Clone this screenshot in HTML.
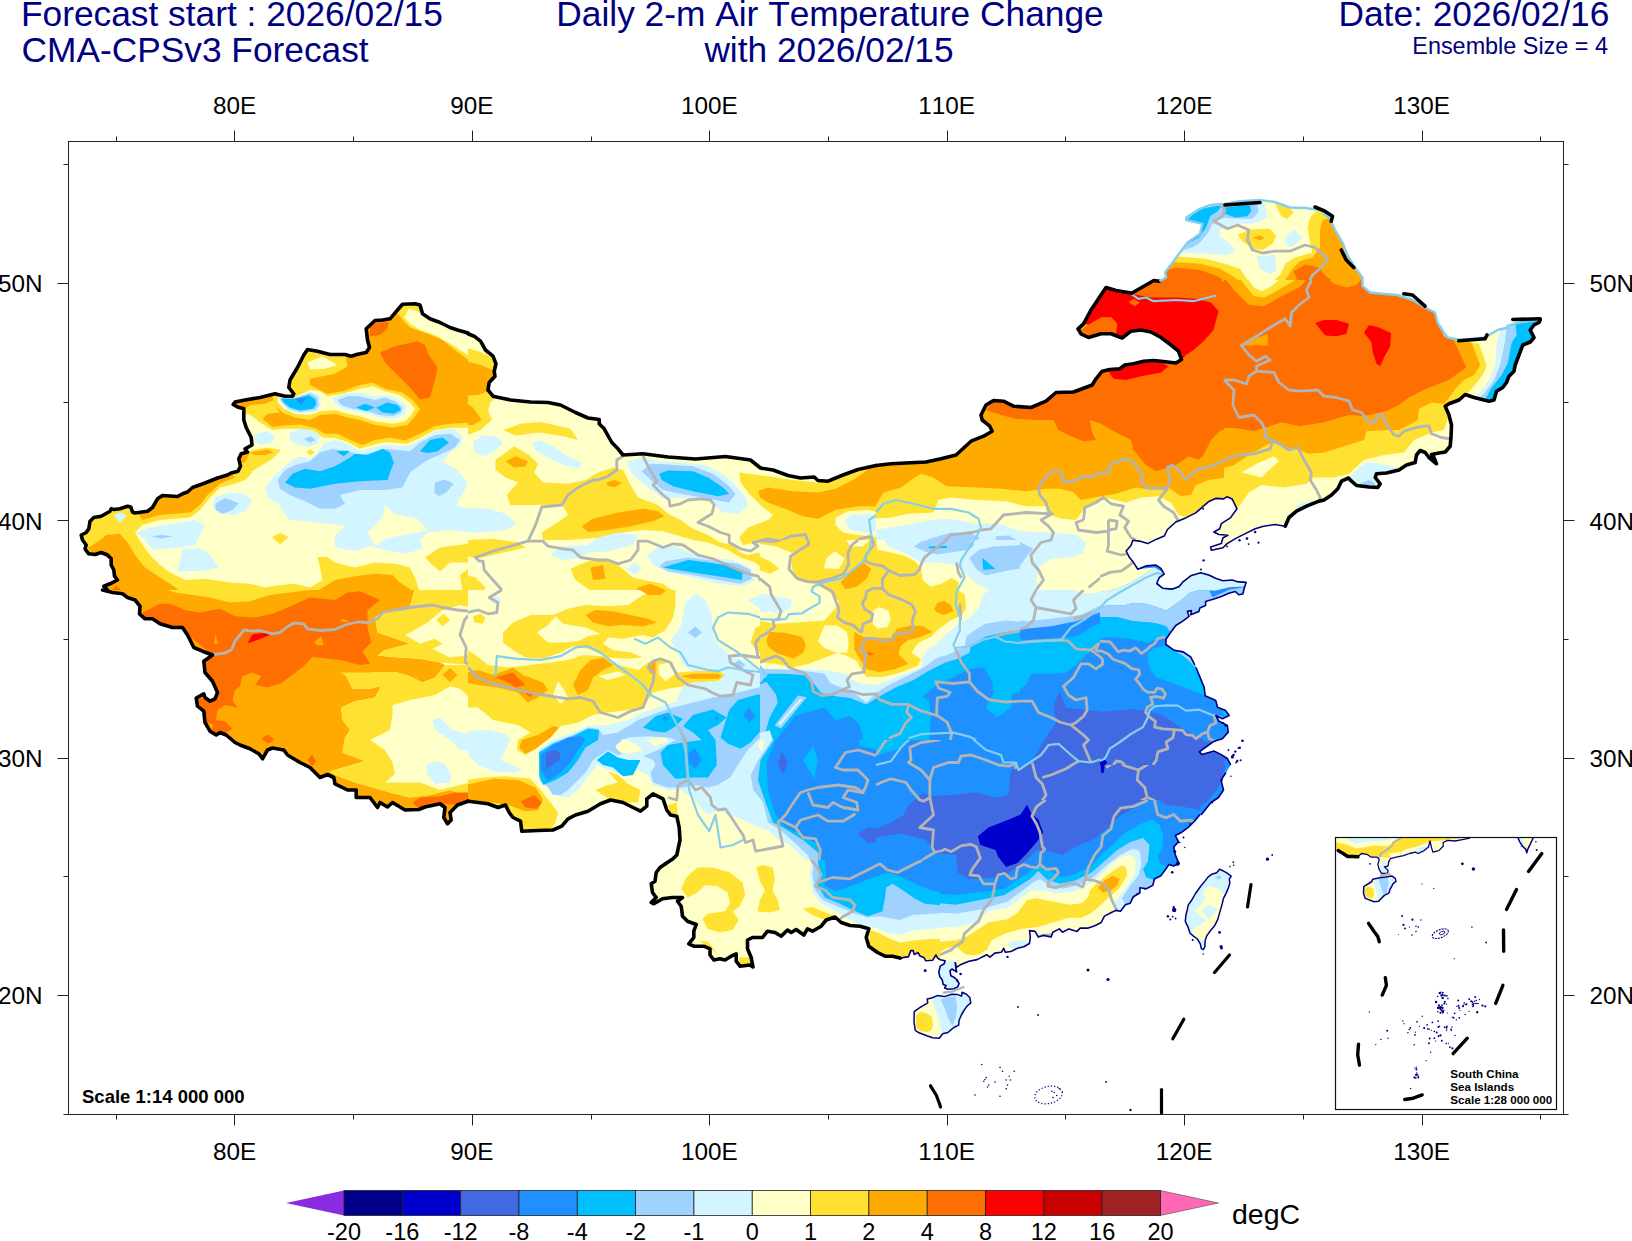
<!DOCTYPE html>
<html><head><meta charset="utf-8"><title>Daily 2-m Air Temperature Change</title>
<style>html,body{margin:0;padding:0;background:#fff;}body{width:1632px;height:1241px;overflow:hidden;position:relative;font-family:"Liberation Sans",sans-serif;}</style>
</head><body>
<svg width="1632" height="1241" viewBox="0 0 1632 1241" style="position:absolute;left:0;top:0">
<defs><clipPath id="t0"><rect x="1100" y="170" width="408" height="112"/></clipPath><clipPath id="t1"><rect x="60" y="280" width="408" height="310"/></clipPath><clipPath id="t2"><rect x="468" y="280" width="408" height="310"/></clipPath><clipPath id="t3"><rect x="876" y="280" width="408" height="310"/></clipPath><clipPath id="t4"><rect x="1224" y="280" width="408" height="310"/></clipPath><clipPath id="t5"><rect x="60" y="590" width="408" height="310"/></clipPath><clipPath id="t6"><rect x="468" y="590" width="408" height="310"/></clipPath><clipPath id="t7"><rect x="876" y="590" width="408" height="310"/></clipPath><clipPath id="t8"><rect x="1100" y="560" width="270" height="205"/></clipPath><clipPath id="t9"><rect x="600" y="860" width="408" height="310"/></clipPath><clipPath id="t10"><rect x="1008" y="860" width="408" height="310"/></clipPath><clipPath id="t11"><rect x="940" y="800" width="260" height="200"/></clipPath><clipPath id="t12"><rect x="760" y="540" width="260" height="200"/></clipPath><clipPath id="china"><polygon points="107.5,590 103.8,586.2 110,583.8 117.5,580 114.5,576.2 113.8,570 111.2,565 111.2,558.8 107.5,555 101.2,552.5 95,554.5 88.8,553.8 85,548.8 86.2,545 82.5,540 81.2,535 86.2,532.5 88.8,528.8 90,521.2 93.8,517.5 101.2,516.2 110,511.2 111.2,508.8 113.8,509.5 120,508.8 127.5,506.2 130.8,507 132.5,512 135,513 147.5,511.2 152.5,507.5 157.5,498.8 162.5,495.5 177.5,496.5 182.5,493.8 187.5,492 192.5,487.5 205,483 217.5,478 227.5,475 231.2,473 238,471.2 240.5,466.2 238.8,458.8 241.2,453.8 247.5,452 245,448.8 252,445 251.2,437.5 246.2,427.5 243.8,420 243.8,408.8 237.5,407 233.2,404.5 235,402 245,400 260,397.5 275,393.8 285,396.2 292.5,396.2 293.8,393.8 288.8,387.5 290,380 297.5,367.5 303.8,355 307.5,349.5 317.5,351.2 330,354.5 345,354.5 351.2,356.2 357.5,354.2 366.2,352.5 369.5,347.5 367.5,340 366.2,328.8 375,320.5 382.5,320 390,318.8 397.5,310 402.5,304.2 415,303.8 420,305 422.5,313.8 430,318.8 440,322.5 450,327.5 457.5,330 468,333 468,333.8 474.2,336.2 480.5,341.2 485.5,350 493,356.2 496,363.8 494.2,371.2 495,376.2 489.2,382.5 488,390 493,396.2 510.5,400 530.5,402 548,402.5 560.5,405 575.5,412.5 588,418 599.2,419.5 599.2,423.8 604.2,428.8 611.8,442.5 618,448.8 623,455 643,453.8 668,457 695.5,459 725.5,456.5 750.5,460 760.5,468 773,470 788,475.5 800.5,478 814.2,477 818,480.5 828,481.2 843,475 858,469.5 876,465.5 876,465.5 891,463.8 906,463 926,462 941,458.8 956,455 971,441.2 983.5,436.2 992.2,431.2 989.8,426.2 982.2,420 981,415 986,405 993.5,400.5 1003.5,401.2 1013.5,406.2 1031,407.5 1046,401.2 1056,392.5 1073.5,392 1092.2,385 1096,378.8 1102.2,371.2 1109.8,369.5 1119.8,368.8 1124.8,365 1133.5,363.8 1143.5,361.2 1153.5,360.5 1161,361.2 1176,363 1181.5,359.5 1178.5,351.2 1171,345 1161,337.5 1151,332 1141,330 1131,331.2 1122.2,338 1111,333.8 1101,333.8 1088.5,337.5 1081,333.8 1078,328.8 1083.5,323.8 1091,310 1101,295 1106,287.5 1116,290.5 1131,293 1132,293 1153.8,280.5 1159.5,281.2 1159.5,281.2 1166.2,277.5 1165,272.5 1172.5,262.5 1180,252.5 1187.5,242.5 1200,233.8 1202.5,223.8 1186.2,220 1186.2,217.5 1200,208.8 1210,205 1225,203.8 1240,201.2 1260,200 1275,202 1290,207.5 1305,208 1320,210 1330,218.8 1335,230 1342.5,242.5 1347.5,255 1355,267.5 1362.5,277.5 1362.5,286.2 1370,292.5 1382.5,293.8 1397.5,295 1412.5,300 1425,307.5 1435,312.5 1437.5,322.5 1443.8,332.5 1447.5,337.5 1460,340 1485,337.5 1497.5,330 1508,327.5 1506.5,326.2 1519,322.5 1536.5,320 1540.2,320 1540.2,320 1539,322.5 1534,325 1530.2,330 1534,337.5 1530.2,342 1522.8,345 1519,355 1515.2,365 1514,371.2 1509,376.2 1506.5,382.5 1502.8,387.5 1496.5,391.2 1494,400 1489,401.2 1474,397.5 1465.2,394.5 1459,400 1449,403.8 1445.2,406.2 1449,415 1451.5,425 1451,437.5 1450.2,446.2 1445.2,452 1439,453 1431.5,454.5 1434,457.5 1436.5,463.8 1429,457.5 1425.2,452.5 1420.2,450.5 1416.5,455 1415.2,462.5 1406.5,465 1399,470 1386.5,473 1376.5,473.8 1375.2,477.5 1380.2,483.8 1377.8,487.5 1369,487 1356.5,485.5 1351.5,481.2 1348.5,478 1341.5,481.2 1337.8,488.8 1331.5,495 1324,500 1319,501.2 1306.5,506.2 1296.5,511.2 1289,517.5 1285.2,526.2 1285,526.2 1275.1,524.5 1263.5,526.2 1255.2,528.7 1245.3,533.6 1235.4,538.6 1227.1,543.6 1223,547.7 1211.4,550.2 1210.6,546.9 1221.3,543.6 1223,537.8 1227.9,535.3 1218.8,534.5 1213.9,532 1219.7,528.7 1221.3,523.7 1230.4,517.9 1237,508.8 1232.1,498.9 1227.1,496.7 1223.8,498.9 1215.5,498.4 1208.9,501.4 1202.3,507.2 1195.7,512.9 1185.7,517.9 1175.8,522 1167.5,529.5 1164.2,536.1 1156,539.4 1147.7,543.6 1139.4,541.1 1132.8,540.2 1131.1,545.2 1126.2,551 1129.5,557.6 1133.6,562.6 1137.8,569.2 1146,565.9 1156,565.1 1160.9,568.4 1164.2,574.2 1159.3,577.5 1156.8,583.3 1162.6,588.2 1172.5,589.1 1179.1,586.6 1183.3,581.6 1190.7,575.8 1200.6,572.8 1208.9,575 1215.5,578.3 1223,580.8 1232.1,580 1237,581.6 1246.1,582.4 1244.5,587.4 1242.8,594 1238.7,594.8 1235.4,591.5 1228.8,593.2 1221.3,596.5 1213.9,599 1205.6,601.5 1205.6,605.6 1199.8,608.1 1199,611.4 1190.7,614.7 1191.5,610.6 1187.4,611.4 1189.1,616.4 1182.4,621.3 1175.8,625.5 1170.9,632.1 1165.9,639.5 1165.9,644.5 1174.2,650.3 1183.3,651.9 1190.7,656.9 1194.8,665 1196,667.5 1204.2,687.4 1205.1,695.7 1215.8,700.6 1217.5,707.3 1225.7,710.6 1229.1,715.5 1222.4,718.8 1215.8,715.5 1219.1,721.3 1227.4,725.5 1228.2,732.1 1222.4,738.7 1214.2,741.2 1205.9,747 1199.3,751.9 1201.8,754.4 1214.2,751.1 1220.8,754.4 1227.4,758.5 1230.7,765 1226,772.5 1221,780 1223.5,790 1218.5,797.5 1211,802.5 1201,815 1200,814.5 1194.7,821 1188.2,827.4 1181.8,832.2 1175.3,835.5 1178.6,841.9 1173.7,846.7 1175.3,854.8 1178.6,862.9 1173.7,866.1 1168.9,864.5 1165.7,869.3 1160.8,875.8 1154.4,879 1152.8,885.4 1146.3,888.7 1139.9,887.8 1139.9,892.7 1133.4,896.7 1130.2,903.2 1125.4,904.8 1120.5,911.2 1115.7,910.4 1110.9,912.8 1104.4,916.1 1101.2,922.5 1094.7,925.7 1088.3,928.1 1080.2,928.1 1077,931.4 1068.9,928.9 1062.5,932.2 1059.3,928.9 1052.8,932.2 1051.2,937 1043.2,935.4 1038.3,937 1035.1,931.4 1029.5,930.6 1030.3,937 1029.5,943.5 1023.8,946.7 1017.4,948.3 1010.9,951.5 1005.3,952.3 1003.7,948.3 1001.3,952.3 994.8,953.1 990,957.2 986.7,954.7 977.1,959.6 969,961.2 961,964.4 956.1,967.6 955.3,962 955.3,962.2 955.8,968 956.7,971.9 951.9,969 950,970.9 950.9,975.8 953.8,977.2 956.7,979.7 959.1,983.5 957.7,986.9 953.8,988.8 948,989.3 944.6,987.9 946.1,985.5 943.2,984.5 942.2,979.7 939.8,976.8 938.8,971.9 940.3,966.1 944.2,963.7 945.1,960.8 940.3,959.8 937.9,958.4 935.9,955 932.6,960.3 925.8,960.8 923.8,957.4 920,956 918,952.6 914.2,954.5 913.2,950.6 910.8,950.6 908.4,956.9 903.5,957.4 899.7,958.9 900,958 892.5,956.2 885,956.2 877.5,952.5 868.8,946.2 866.2,937.5 868.8,928.8 860,926.2 850,925.5 841.2,922.5 835,917 826.2,920 821.2,926.2 812.5,931.2 807.5,928.8 803.8,935 796.2,929.5 791.2,932.5 787.5,930 781.2,936.2 775,932.5 767.5,931.2 762.5,937.5 752.5,937.5 747.5,940 747.5,948.8 751.2,957.5 753,967 750,965 740,966.2 736.2,961.2 736.2,953.8 731.2,956.2 725,960 720,958.8 713.8,960 710,955 710,948.8 703.8,946.2 693.8,946.2 688.8,943.8 693.8,937.5 693.8,931.2 696.2,924.5 687.5,921.2 682.5,916.2 681.2,906.2 677.5,901.2 682.5,897.5 672.5,897.5 662.5,898.8 653.8,903.8 651.2,902.5 656.2,897.5 652.5,892.5 651.2,883.8 655,881.2 656.2,872.5 660,867.5 665.5,863.8 665.5,863.8 673,858.8 676.8,855 680,840 679.2,827.5 676.8,816.2 670.5,815 666.8,810 663,798.8 653,793.8 646.8,798.8 646.8,806.2 640.5,811.2 633,807.5 623,802.5 610.5,800 600.5,803.8 588,811.2 575.5,815 568,818.8 561.8,826.2 553,830 538,830.5 521.8,831.2 520.5,821.2 513,817.5 509.2,812.5 505.5,805 498,807.5 488,803.8 478,802.5 468,801.2 468,801.2 457.5,805 450,812.5 451.2,820 447.5,823.8 443.8,817.5 445,807.5 440,803.8 425,807 418.8,809.5 405,810 392.5,802.5 387.5,807 380,802.5 377.5,807.5 370,797.5 356.2,797.5 356.2,790 347.5,790 335,783.8 333.8,777.5 327.5,774.5 320,777.5 310,767.5 300,762.5 287.5,755 283.8,750 272.5,748 267.5,750 262.5,758.8 258.8,753.8 250,748.8 240,745 235,742.5 226.2,735 220,732.5 216.2,735 210,731.2 205,722.5 203.8,711.2 197.5,706.2 196.2,698 203.8,693.8 205,697.5 210,701.2 215,698.8 217.5,692.5 212.5,681.2 205,672.5 203.8,661.2 212.5,655 202.5,651.2 193.8,647.5 187.5,635 182.5,627.5 172.5,627.5 160,623.8 152.5,618.8 145,618.8 139.5,613.8 140,606.2 135,600 127.5,597.5 122.5,593.8 112.5,592.5 102.5,590"/></clipPath></defs>
<g clip-path="url(#china)"><rect x="60" y="180" width="1500" height="900" fill="#FFFFC8"/>
<g clip-path="url(#t0)"><rect x="1100" y="170" width="408" height="112" fill="#FFFFC8"/><polygon fill="#FFE132" points="1175,256.2 1205,258.8 1225,263.8 1240,268.8 1247.5,280 1260,290 1270,283.8 1280,275 1286.2,262.5 1295,257.5 1312.5,252.5 1310,242.5 1307.5,227.5 1310,217.5 1317.5,210 1335,217.5 1375,290 1375,482.5 1097.5,482.5 1097.5,270 1162.5,277.5"/><polygon fill="#FFAA00" points="1171.2,262 1200,263.8 1220,268.8 1235,277.5 1247.5,290 1260,296.2 1272.5,290 1285,280 1292.5,268.8 1300,261.2 1312.5,257.5 1320,247.5 1320,230 1322.5,220 1331.2,217.5 1375,290 1375,482.5 1097.5,482.5 1097.5,270 1163.8,277.5"/><polygon fill="#FF6E00" points="1167.5,270 1175,267.5 1200,270 1217.5,276.2 1230,285 1242.5,296.2 1255,306.2 1270,301.2 1285,287.5 1297.5,281.2 1293.8,271.2 1305,264.5 1317.5,267 1326.2,276.2 1340,286.2 1360,287.5 1375,295 1375,482.5 1097.5,482.5 1097.5,282.5 1162.5,280"/><polygon fill="#D2F5FF" points="1180,252.5 1187.5,242.5 1200,233.8 1202.5,223.8 1186.2,220 1200,208.8 1225,203.8 1260,200 1265,205 1267.5,217.5 1260,221.2 1250,223.8 1235,223.8 1220,230 1220,236.2 1230,243.8 1236.2,250 1227.5,255 1205,253.8"/><polygon fill="#A0D2FF" points="1182.5,250 1187.5,242.5 1200,233.8 1202.5,223.8 1186.2,220 1200,208.8 1225,203.8 1256.2,202 1258.8,211.2 1252.5,218.8 1240,218.8 1222.5,217.5 1212.5,223.8 1207.5,233.8 1200,242.5 1192.5,247.5"/><polygon fill="#00BFFF" points="1185,245 1200,233.8 1202.5,223.8 1186.2,220 1200,208.8 1222.5,205 1217.5,211.2 1210,216.2 1206.2,227.5 1198.8,237.5"/><polygon fill="#00BFFF" points="1225,207.5 1250,205 1251.2,211.2 1247.5,216.2 1235,217.5 1225,213.8"/><polygon fill="#D2F5FF" points="1256.2,256.2 1275,255 1276.2,270 1270,273.8 1260,268.8"/><polygon fill="#D2F5FF" points="1285,236.2 1293.8,230 1302.5,237.5 1295,245 1290,247.5 1285,243.8"/><polygon fill="#FFE132" points="1237.5,235 1250,229.5 1270,228.8 1276.2,236.2 1272.5,243.8 1262.5,250 1252.5,248.8 1242.5,241.2"/><polygon fill="#FFAA00" points="1252.5,237.5 1260,235.5 1265,238 1260,240.5"/><polygon fill="#FFE132" points="1275,203.8 1290,208 1293.8,212.5 1287.5,218.8 1281.2,216.2"/><polygon fill="#FF0000" points="1097.5,290 1125,293.8 1132.5,295 1150,290 1153.8,297.5 1175,296.2 1200,297.5 1212.5,303.8 1218.8,312.5 1215,325 1097.5,325"/><polyline fill="none" stroke="#B4B4B4" stroke-width="2.8" stroke-linejoin="round" points="1218.8,203.8 1225,210 1222.5,216.2 1213.8,221.2 1227.5,228.8 1237.5,225 1248.8,230 1247.5,240 1252.5,250 1262.5,253 1275,251.2 1290,251.2 1305,245 1315,247.5 1327.5,258.8 1322.5,266.2 1312.5,275 1307.5,285"/></g>
<g clip-path="url(#t1)"><rect x="60" y="280" width="408" height="310" fill="#FFFFC8"/><polygon fill="#FFE132" points="230,397.5 310,342.5 410,295 470,295 470,427.5 450,428 435,430 420,438 407.5,443.8 385,442 372.5,445 360,448.8 347.5,442 335,438 322.5,437.5 315,431.5 300,428.8 285,428.8 272.5,430 260,422.5 252.5,416.2 243.8,412.5"/><polygon fill="#FFFFC8" points="408.8,308.8 421.2,312.5 470,332.5 470,356.2 450,343.8 435,335 420,330 410,323.8 403.8,317.5"/><polygon fill="#FFFFC8" points="307.5,362.5 322.5,356.2 337.5,365 325,368.8 310,369.5"/><polygon fill="#FFAA00" points="395,310 403.8,321.2 410,327.5 427.5,333.8 442.5,340 455,350 470,361.2 470,422.5 450,423.8 435,426.2 420,433.8 405,440.5 390,437.5 375,440 362.5,445 350,440 337.5,433.8 325,433.8 315,428 300,424.5 285,425.5 272.5,427 262.5,418.8 267.5,413.8 280,412.5 275,405 272.5,396.2 293.8,397.5 310,385 310,378.8 335,373.8 347.5,366.2 345,352.5 370,350 363.8,327.5 375,317.5"/><polygon fill="#FFAA00" points="235,400 275,393.8 277.5,398.8 265,403.8 250,405 245,408.8 235,405"/><polygon fill="#FFE132" points="272.5,396.2 293.8,397.5 310,385 327.5,393.8 342.5,391.2 360,385 372.5,382.5 385,388.8 402.5,392.5 412.5,400 420,408.8 416.2,415 407.5,425 392.5,427.5 375,425 360,420 347.5,417.5 335,413.8 320,415 310,420 295,417.5 282.5,412.5 275,405"/><polygon fill="#FFFFC8" points="277.5,397.5 293.8,397.5 310,390 320,391.2 327.5,396.2 342.5,393.8 360,388.8 372.5,386.2 385,391.2 400,395 410,402.5 415,408.8 411.2,415 405,421.2 392.5,423.8 375,421.2 360,416.2 347.5,413.8 335,410 320,411.2 310,415 295,413.8 283.8,408.8 278,402.5"/><polygon fill="#D2F5FF" points="278.8,397.5 295,397.5 310,391.2 318.8,395 321.2,405 317.5,411.2 300,413.8 287.5,410 281.2,403.8"/><polygon fill="#D2F5FF" points="332.5,397.5 345,393.8 360,392.5 375,396.2 385,395 397.5,398.8 406.2,406.2 405,413.8 395,418.8 380,417.5 367.5,413.8 355,411.2 342.5,408.8 335,403.8"/><polygon fill="#A0D2FF" points="280,398 295,398 310,393 317.5,397.5 318.8,405 315,410 300,412 288.8,408.8 282.5,403"/><polygon fill="#A0D2FF" points="337.5,400 347.5,396.2 360,396.2 375,400 385,397.5 395,401.2 402.5,407.5 401.2,412.5 392.5,416.2 380,415 367.5,411.2 352.5,408.8 341.2,405"/><polygon fill="#00BFFF" points="281.2,398.8 295,398.8 308.8,395 315.5,399.5 316.2,405 312.5,408.8 300,410.5 290,407.5 283.8,402.5"/><polygon fill="#00BFFF" points="356.2,407.5 365,403.8 375,407.5 366.2,411.2"/><polygon fill="#00BFFF" points="376.2,407.5 387.5,402.5 397.5,405 401.2,410 393.8,413.8 382.5,412.5"/><polygon fill="#1E90FF" points="295,398.8 307.5,397.5 301.2,405"/><polygon fill="#FF6E00" points="370,327.5 376.2,322.5 388.8,322 387.5,328.8 380,335 370,336.2"/><polygon fill="#FF6E00" points="380,352.5 395,346.2 417.5,341.2 425,345 428.8,355 437.5,367.5 435,380 430,397.5 420,399.5 410,387.5 395,372.5 385,362.5"/><polygon fill="#D2F5FF" points="255,433.8 267.5,431.2 275,436.2 272.5,442.5 260,445 253.8,440"/><polygon fill="#D2F5FF" points="290,432.5 300,428.8 312.5,430 320,436.2 317.5,443.8 307.5,447 295,443.8 289.5,438.8"/><polygon fill="#A0D2FF" points="303.8,438.8 311.2,436.2 315.5,440 310,443"/><polygon fill="#D2F5FF" points="325,442.5 335,440 347.5,443.8 360,451.2 372.5,447.5 385,445 407.5,446.2 420,440 435,431.2 450,428.8 470,431.2 470,532.5 450,530 427.5,532.5 420,540 422.5,548.8 405,553.8 385,550 370,546.2 355,551.2 335,547.5 335,535 345,526.2 327.5,523.8 307.5,521.2 290,520 281.2,510 280,505 267.5,497.5 265,487.5 272.5,477.5 280,470 292.5,460 300,456.2 310,458.8 315,455 320,448.8"/><polygon fill="#FFFFC8" points="455,430 462.5,436.5 461.2,445 449,453.2 442.8,461.8 457.2,470 467.8,482.8 463.5,493 456.2,505.8 472.5,506.2 472.5,427.5"/><polygon fill="#FFFFC8" points="385,505 393.8,513.8 417.5,518.8 427.5,530 410,533.8 385,538.8 376.2,546.2 367.5,532.5 382.5,517.5"/><polygon fill="#FFFFC8" points="457.5,500 470,495 470,508.8 460,506.2"/><polygon fill="#A0D2FF" points="277.5,480 285,470 295,465 310,461.2 320,452.5 332.5,448.8 347.5,451.2 360,455 372.5,452.5 385,448.8 410,451.2 420,442.5 435,435 450,433.8 460,440 455,447.5 445,452.5 427.5,460 420,465 410,472.5 402.5,487.5 385,490 360,490 340,495 345,503.8 335,508.8 320,508.8 305,501.2 290,495 280,488.8"/><polygon fill="#A0D2FF" points="435,482.5 445,479.5 453.8,483.8 446.2,492.5 438.8,496.2 434.2,492.5"/><polygon fill="#00BFFF" points="285,482.5 292.5,473.8 305,468.8 320,471.2 335,466.2 350,457.5 355,453.8 367.5,455 382.5,448.8 390,452.5 393.8,462.5 390,472.5 387.5,480 360,481.2 335,483.8 310,488.8 295,487.5"/><polygon fill="#00BFFF" points="336.2,451.2 350,450.8 343.8,456.2"/><polygon fill="#00BFFF" points="420,451.2 430,440 442.5,437.5 448.8,442.5 437.5,451.2 427.5,453"/><polygon fill="#FFE132" points="241.2,455 252.5,450 267.5,447.5 281.2,450 272.5,458.8 260,466.2 250,472.5 235,477.5 238.8,465"/><polygon fill="#FFAA00" points="250,452.5 267.5,449.5 273.8,452.5 265,455 255,455"/><polygon fill="#FFAA00" points="241.2,455 250,452.5 245,462.5 240.5,462.5"/><polygon fill="#FFE132" points="306.2,452 310,449.5 314.5,452 310.8,455.5"/><polygon fill="#FFE132" points="242.5,467.5 252.5,472.5 245,480 235,483.8 220,487.5 210,497.5 200,510 190,517.5 160,520 142.5,525 135,532.5 142.5,545 150,555 160,565 170,572.5 185,580 185,592.5 75,592.5 75,517.5 110,505 160,492.5 190,485 230,470"/><polygon fill="#FFAA00" points="235,477.5 220,483.8 207.5,495 200,505 190,512.5 160,515 142.5,520 137.5,512.5 155,497.5 177.5,493.8 192.5,486.2 230,472.5"/><polygon fill="#FFAA00" points="106.2,535 120,533.8 127.5,542.5 135,555 145,567.5 160,577.5 170,583.8 182.5,592.5 102.5,592.5 113.8,580 113.8,570 111.2,557.5 107.5,553.8 101.2,552.5 92.5,553.8 87.5,547.5 92.5,545 100,540"/><polygon fill="#FF6E00" points="116.2,585.5 123.8,592.5 110,592.5"/><polygon fill="#FFE132" points="185,580 205,578.8 230,582.5 250,583.8 265,587.5 280,585 295,583.8 310,587.5 322.5,580 320,567.5 317.5,557 327.5,557 335,562.5 355,567.5 375,562.5 395,563.8 410,567.5 415,577.5 420,592.5 180,592.5"/><polygon fill="#FFAA00" points="335,580 355,576.2 375,573.8 392.5,575 400,582.5 415,592.5 315,592.5"/><polygon fill="#FFE132" points="425,557.5 440,547.5 468,543.8 470,562.5 450,562.5 440,571.2 432.5,565"/><polygon fill="#FFE132" points="272,537 280,533 288.8,537 280,544.5"/><polygon fill="#FFE132" points="460,575 470,567.5 470,592.5 462.5,592.5"/><polygon fill="#D2F5FF" points="215,497.5 230,492.5 245,493.8 252.5,501.2 245,511.2 235,515 220,513.8 212.5,506.2"/><polygon fill="#A0D2FF" points="215.5,503.8 225,498 238.8,503.2 232.5,510 222.5,513.8 215.5,510"/><polygon fill="#D2F5FF" points="136.2,532.5 150,527.5 172.5,523.8 195,520 205,525 195,545 180,547.5 152.5,549.5 145,540"/><polygon fill="#A0D2FF" points="151.2,536.2 162.5,535 172.5,536.5 161.2,538.5"/><polygon fill="#D2F5FF" points="177.5,571.2 182.5,548.8 200,548 210,555 218.8,567.5 200,571.2"/><polygon fill="#D2F5FF" points="113.8,515 120,512.5 127,515.5 120,523"/></g>
<g clip-path="url(#t2)"><rect x="468" y="280" width="408" height="310" fill="#FFFFC8"/><polygon fill="#FFE132" points="465.5,347.5 478,351.2 493,357.5 496.8,365 495.5,397.5 490.5,402.5 488,410 491.8,420 480.5,430 468,435 465.5,435"/><polygon fill="#FFAA00" points="465.5,361.2 480.5,365 493,370 495,376.2 489.2,382.5 488,391.2 478,395 465.5,395.5"/><polygon fill="#FFAA00" points="465.5,402.5 473,407.5 481.8,420 473,425 465.5,425"/><polygon fill="#D2F5FF" points="473,442.5 483,435 495.5,436.2 503,442.5 493,452.5 483,456.2 474.2,452.5"/><polygon fill="#FFE132" points="503,430 520.5,423.8 540.5,422 570.5,428.8 578,440 563,436.2 540.5,432.5 515.5,435.5"/><polygon fill="#D2F5FF" points="532.5,442.5 540.5,440 553,446.2 568,456.2 581.8,462.5 579.2,468.8 563,465 548,457.5 535.5,450"/><polygon fill="#FFE132" points="495.5,460 514.2,446.2 529.2,455 538,463.8 534.2,472.5 543,482.5 568,483.8 585.5,480 598,472.5 613,467.5 623,470 630.5,485 638,497.5 658,505 668,513.8 680.5,520 693,528.8 708,535 720.5,542.5 733,545 740.5,552.5 748,555 758,552.5 768,557.5 779.2,567.5 768,573.8 755.5,562.5 740.5,557.5 728,550 708,542.5 693,540 680.5,536.2 663,531.2 643,530 623,532.5 603,537.5 568,540 543,540 541.8,532.5 555.5,523.8 568,515 563,506.2 543,505 510.5,505 506.8,495 518,482.5 505.5,477.5 495.5,470"/><polygon fill="#FFAA00" points="505.5,461.2 515.5,456.2 528,461.2 525.5,466.2 514.2,467.5"/><polygon fill="#FFAA00" points="606.8,482.5 614.2,480 621.8,483 615.5,487 608,486.2"/><polygon fill="#FFAA00" points="581.8,526.2 593,518.8 618,512.5 643,508.8 658,511.2 664.2,516.2 653,521.2 630.5,526.2 608,530 588,532"/><polygon fill="#D2F5FF" points="465.5,507.5 488,508.8 505.5,513.8 516.8,523.8 505.5,530 483,532.5 465.5,532.5"/><polygon fill="#FFE132" points="465.5,540 493,538.8 518,542.5 525.5,547.5 493,555 475.5,558.8 465.5,555"/><polygon fill="#D2F5FF" points="626.8,461.2 643,457 658,461.2 680.5,462.5 705.5,465 720.5,472.5 733,482.5 745.5,497.5 748,506.2 738,513.8 723,512.5 708,500 680.5,497.5 663,498.8 648,487.5 635.5,477.5 628,467.5"/><polygon fill="#A0D2FF" points="641.8,471.2 650.5,463.8 668,464.5 693,466.2 713,473.8 728,485 735.5,493.8 729.2,502.5 708,498.8 680.5,493.8 663,490 650.5,480"/><polygon fill="#00BFFF" points="659.2,473.8 668,470.5 693,471.2 708,477.5 723,487.5 729.2,493.8 718,496.2 693,491.2 673,486.2 661.8,480"/><polygon fill="#FFE132" points="739.2,472.5 768,476.2 793,480 818,482.5 878,462.5 878,592.5 793,592.5 790.5,575 788,562.5 793,555 768,545 755.5,542.5 743,545 739.2,537.5 748,527.5 768,520 773,515 760.5,505 748,492.5 740.5,482.5"/><polygon fill="#FFFFC8" points="835.5,517.5 848,511.2 868,510 878,512.5 878,537.5 858,535 843,532.5 835.5,525"/><polygon fill="#D2F5FF" points="844.2,521.2 850.5,515 868,513.8 878,517.5 878,530 865.5,532.5 850.5,530"/><polygon fill="#FFFFC8" points="824.2,557.5 834.2,551.2 844.2,557.5 835.5,569.5 824.2,567.5"/><polygon fill="#FFFFC8" points="753,545 768,546.2 780.5,551.2 790.5,557.5 790.5,565 778,565 768,555 755.5,551.2"/><polygon fill="#FFAA00" points="758,491.2 768,487.5 793,491.2 818,492.5 835.5,488.8 853,480 878,462.5 878,506.2 858,506.2 835.5,510 818,518.8 803,516.2 788,510 768,502.5 760.5,497.5"/><polygon fill="#FFAA00" points="840.5,580 858,563.8 870.5,562.5 868,575 858,587.5 843,588.8"/><polygon fill="#D2F5FF" points="550.5,555 560.5,546.2 588,545 598,537.5 618,532.5 638,535 633,545 608,551.2 588,552.5 580.5,557.5 563,560"/><polygon fill="#D2F5FF" points="646.8,555 658,547.5 675.5,546.2 693,553.8 708,557.5 733,560 750.5,567.5 755.5,580 743,586.2 718,583.8 693,577.5 668,572.5 653,565"/><polygon fill="#A0D2FF" points="659.2,566.2 665.5,561.2 688,557.5 708,560 738,563.8 750.5,570 751.8,578.8 740.5,583.8 718,580 693,575 668,571.2"/><polygon fill="#00BFFF" points="663,567.5 688,560 708,562.5 733,566.2 743,571.2 741.8,580 718,576.2 693,572.5"/><polygon fill="#D2F5FF" points="626.8,568.8 634.2,562.5 641.8,568.8 634.2,575"/><polygon fill="#FFE132" points="570.5,568.8 588,561.2 608,560 618,565 633,577.5 643,580 663,583.8 675.5,592.5 593,592.5 575.5,580"/><polygon fill="#FFAA00" points="590.5,567.5 603,565 605.5,578.8 593,580"/><polygon fill="#FFAA00" points="638,587.5 650.5,583.8 663,588.8 665.5,592.5 635.5,592.5"/><polygon fill="#FFE132" points="465.5,575 475.5,577.5 485.5,587.5 483,592.5 465.5,592.5"/><polyline fill="none" stroke="#B4B4B4" stroke-width="2.8" stroke-linejoin="round" points="623,456.2 616.8,460 616.8,470 608,476.2 598,480 593,480 578,487.5 568,495 561.8,505 541.8,507 535.5,525 528,541.2 493,551.2 475.5,557.5 479.2,561.2 483,561.2 484.2,570 493,580 501.8,590"/><polyline fill="none" stroke="#B4B4B4" stroke-width="2.8" stroke-linejoin="round" points="528,541.2 543,541.2 548,546.2 563,548.8 573,550 580.5,557.5 598,560 608,560 618,563.8 630.5,560 638,550 638,541.2 648,541.2 663,547.5 673,543.8 683,545 698,555 713,558.8 733,567.5 748,573.8 758,576.2 763,583.8 770.5,588.8"/><polyline fill="none" stroke="#B4B4B4" stroke-width="2.8" stroke-linejoin="round" points="643,456.2 648,466.2 656.8,481.2 653,485 663,495 669.2,500 670,506.2 680.5,503.8 688,500 700.5,498.8 710.5,500 714.2,505 711.8,513.8 698,522.5 708,526.2 720.5,532.5 729.2,535 729.2,542.5 740.5,548.8 750.5,551.2 758,546.2 753,542.5 768,538.8 780.5,541.2 790.5,536.2 805.5,534.5 808,542.5 803,550 791.8,557.5 793,563.8 789.2,568.8 798,575 803,578.8 818,580 835.5,578.8 843,575 848,565 850.5,550 860.5,538.8 870.5,536.2"/><polyline fill="none" stroke="#87CEEB" stroke-width="2.2" stroke-linejoin="round" points="878,513.8 869.2,520 870.5,530 873,542.5 865.5,557.5 853,570 843,576.2 825.5,582.5 813,588.8"/><polyline fill="none" stroke="#B4B4B4" stroke-width="2.8" stroke-linejoin="round" points="870.5,536.2 873,545 868,555 865.5,562.5 878,565"/></g>
<g clip-path="url(#t3)"><rect x="876" y="280" width="408" height="310" fill="#FFFFC8"/><polygon fill="#FFE132" points="873.5,455 1286,430 1286,487.5 1271,485 1256,487.5 1246,495 1238.5,505 1221,500 1211,500 1201,510 1188.5,517.5 1178.5,515 1171,502.5 1158.5,496.2 1141,497.5 1126,502.5 1116,500 1103.5,497.5 1093.5,505 1083.5,510 1076,520 1061,518.8 1051,515 1046,506.2 1026,506.2 1006,501.2 976,500 951,497.5 938.5,500 933.5,512.5 908.5,513.8 891,517.5 873.5,518.8"/><polygon fill="#FFFFC8" points="1241,472.5 1258.5,463.8 1276,456.2 1278.5,462.5 1266,472.5 1256,477.5"/><polygon fill="#FFAA00" points="873.5,280 1286,280 1286,450 1276,452.5 1261,460 1246,470 1226,477.5 1208.5,480 1196,485 1191,495 1181,496.2 1168.5,487.5 1151,490 1136,487.5 1116,493.8 1101,496.2 1081,500 1073.5,492.5 1061,488.8 1046,488.8 1026,491.2 1001,488.8 976,487.5 946,486.2 933.5,477.5 921,473.8 911,480 901,487.5 883.5,492.5 876,505 873.5,505"/><polygon fill="#FF6E00" points="986,410 993.5,400.5 1013.5,406.2 1031,407.5 1056,392.5 1093.5,385 1101,287.5 1101,277.5 1286,277.5 1286,427.5 1266,430 1251,430 1221,430 1211,440 1203.5,455 1198.5,460 1188.5,456.2 1176,465 1156,471.2 1146,465 1133.5,450 1131,440 1116,432.5 1101,423.8 1089.8,420 1092.2,432.5 1096,440 1083.5,441.2 1071,436.2 1058.5,430 1053.5,420 1036,420 1016,418.8 1001,415"/><polygon fill="#FFAA00" points="1221,280 1236,290 1251,305 1266,302.5 1286,290 1286,277.5"/><polygon fill="#FFE132" points="1236,280 1246,287.5 1256,295 1268.5,292.5 1281,282.5 1286,277.5"/><polygon fill="#FFFFC8" points="1246,280 1253.5,287.5 1261,290 1271,285 1276,278.8"/><polygon fill="#FFAA00" points="1246,342.5 1258.5,336.2 1268,333.8 1268,346.2 1251,347.5"/><polygon fill="#FF0000" points="1106,287.5 1116,290.5 1131,293.8 1151,297.5 1176,297.5 1196,298.8 1211,302.5 1218.5,311.2 1213.5,330 1203.5,341.2 1193.5,350 1186,355 1181.5,359.5 1178.5,351.2 1161,337.5 1141,330 1122.2,338 1116,333.8 1117.2,323.8 1111,317.5 1101,317.5 1088.5,325 1083.5,323.8 1091,310"/><polygon fill="#FF0000" points="1108.5,371.2 1124.8,366.2 1143.5,362.5 1161,362.5 1168.5,366.2 1161,372.5 1141,376.2 1126,380 1113.5,378.8"/><polygon fill="#FF6E00" points="1081,330 1088.5,325 1101,317.5 1111,317 1117.2,323.8 1115.5,333 1101,333.8 1088.5,337"/><polygon fill="#FF6E00" points="1128.5,302 1133.5,298.8 1139.8,302.5 1134.8,306.2"/><polygon fill="#D2F5FF" points="873.5,530 891,527.5 913.5,523.8 931,520 951,518.8 976,523.8 1001,523.8 1016,530 1036,532.5 1056,532.5 1076,535 1086,542.5 1083.5,552.5 1071,557.5 1051,558.8 1038.5,567.5 1036,580 1041,592.5 963.5,592.5 961,580 958.5,570 941,562.5 921,555 901,550 886,545 873.5,540"/><polygon fill="#A0D2FF" points="913.5,547 926,540 951,532.5 971,533.8 979.8,537.5 971,547.5 958.5,553.8 938.5,555 923.5,551.2"/><polygon fill="#A0D2FF" points="969.8,557.5 976,550 986,547.5 996,545 996,536.2 1008.5,535.5 1021,542.5 1033.5,548.8 1026,557.5 1018.5,567.5 1006,570 986,576.2 976,570"/><polygon fill="#00BFFF" points="983.5,558 993.5,567.5 983.5,570"/><polygon fill="#00BFFF" points="928.5,547 947.2,546.5 947.2,548.2 929.8,548.8"/><polygon fill="#FFE132" points="873.5,550 891,552.5 908.5,560 921,567.5 921,580 933.5,583.8 951,580 958.5,587.5 958.5,592.5 873.5,592.5"/><polygon fill="#D2F5FF" points="1131,592.5 1136,580 1151,573.8 1163.5,573.8 1176,588.8 1193.5,575 1208.5,573.8 1221,580 1246,583.8 1243.5,592.5"/><polyline fill="none" stroke="#B4B4B4" stroke-width="2.8" stroke-linejoin="round" points="1038.5,487.5 1048.5,473.8 1056,470.5 1062.2,472.5 1063.5,482 1073.5,481.2 1083.5,476.2 1091,477.5 1096,473.8 1108.5,472.5 1111,463.8 1123.5,459.5 1131,460 1138.5,468.8 1142.2,475 1141,480 1146,487.5 1167.2,488.8 1169.8,480 1167.2,467.5 1172.2,465 1178.5,470 1186,480 1196,470 1211,466.2 1226,460 1243.5,452.5 1261,450 1271,445 1272.2,438.8 1286,443.8"/><polyline fill="none" stroke="#B4B4B4" stroke-width="2.8" stroke-linejoin="round" points="1167.2,488.8 1158.5,500 1163.5,506.2 1173.5,512.5 1178.5,521.2"/><polyline fill="none" stroke="#B4B4B4" stroke-width="2.8" stroke-linejoin="round" points="1038.5,487.5 1039.8,495 1046,502.5 1048.5,511.2 1052.2,513.8 1041,520 1048.5,526.2 1053.5,532.5 1051,540 1041,542.5 1031,555 1032.2,562.5 1038.5,570 1043.5,580 1036,590"/><polyline fill="none" stroke="#B4B4B4" stroke-width="2.8" stroke-linejoin="round" points="1052.2,513.8 1026,512.5 1003.5,515 991,528.8 981,530 972.2,532.5 951,535 936,547.5 923.5,560 922.2,568.8 913.5,575 901,576.2 891,572.5 876,565"/><polyline fill="none" stroke="#B4B4B4" stroke-width="2.8" stroke-linejoin="round" points="1083.5,520 1084.8,507.5 1096,502.5 1103.5,497.5 1111,503.8 1123.5,506.2 1119.8,515 1128.5,521.2 1124.8,527.5 1131,537.5 1136,540"/><polyline fill="none" stroke="#B4B4B4" stroke-width="2.8" stroke-linejoin="round" points="1083.5,520 1076,522.5 1078.5,530 1096,532.5 1108.5,531.2 1108.5,545 1107.2,551.2 1121,555 1127.2,553.8"/><polyline fill="none" stroke="#B4B4B4" stroke-width="2.8" stroke-linejoin="round" points="1108.5,520 1117.2,521.2 1116,528.8 1108.5,530 1108.5,520"/><polyline fill="none" stroke="#B4B4B4" stroke-width="2.8" stroke-linejoin="round" points="1272.2,438.8 1263.5,437.5 1266,430 1258.5,415 1241,420 1233.5,405 1236,392.5 1224.8,382.5 1231,378.8 1248.5,383.8 1251,376.2 1261,372.5 1256,365 1268.5,360 1263.5,355 1256,357.5 1246,350 1242.2,345 1256,335 1286,318.8"/><polyline fill="none" stroke="#B4B4B4" stroke-width="2.8" stroke-linejoin="round" points="1256,365 1276,372.5 1281,385 1286,387.5"/><polyline fill="none" stroke="#B4B4B4" stroke-width="2.8" stroke-linejoin="round" points="1133.5,562.5 1116,571.2 1101,577.5 1088.5,587.5"/><polyline fill="none" stroke="#B4B4B4" stroke-width="2.8" stroke-linejoin="round" points="876,565 881,580 881,590"/><polyline fill="none" stroke="#B4B4B4" stroke-width="2.8" stroke-linejoin="round" points="956,562.5 961,577.5"/><polyline fill="none" stroke="#87CEEB" stroke-width="2.2" stroke-linejoin="round" points="876,512.5 883.5,503.8 896,500 913.5,503.8 933.5,508.8 951,508.8 968.5,512.5 978.5,518.8 981,527.5 976,537.5 971,547.5 963.5,557.5 958.5,570 963.5,580 959.8,590"/><polyline fill="none" stroke="#87CEEB" stroke-width="2.2" stroke-linejoin="round" points="1131,293.8 1138.5,298.8 1146,297.5 1153.5,301.2 1176,300 1193.5,301.2 1216,295.5"/><polyline fill="none" stroke="#87CEEB" stroke-width="2.2" stroke-linejoin="round" points="1133.5,585 1151,577.5 1161,571.2"/></g>
<g clip-path="url(#t4)"><rect x="1224" y="280" width="408" height="310" fill="#FFFFC8"/><polygon fill="#FFE132" points="1221.5,425 1449,375 1471.5,342.5 1479,343.8 1486.5,365 1481.5,380 1471.5,390 1465.2,394.5 1459,400 1449,403.8 1449,415 1444,430 1431.5,432.5 1414,440 1404,452.5 1384,455 1364,460 1349,473.8 1334,477.5 1314,477.5 1306.5,483.8 1284,487.5 1261.5,485 1249,492.5 1239,506.2 1224,512.5 1221.5,512.5"/><polygon fill="#FFFFC8" points="1241.5,472.5 1256.5,463.8 1274,456.2 1279,461.2 1269,470 1261.5,477.5"/><polygon fill="#FFAA00" points="1221.5,427.5 1239,428.8 1254,431.2 1266.5,427.5 1281.5,422.5 1299,426.2 1324,422.5 1349,415 1364,416.2 1386.5,411.2 1399,405 1409,397.5 1424,390 1436.5,385 1449,380 1466.5,367.5 1454,340 1471.5,342.5 1480.2,365 1474,375 1464,380 1456.5,387.5 1449,397.5 1444,403.8 1431.5,402.5 1419,408.8 1417.8,420 1409,425 1399,430 1386.5,430 1366.5,431.2 1364,440 1344,446.2 1324,452.5 1309,453.8 1299,450 1286.5,447.5 1271.5,442.5 1249,455 1234,465 1221.5,468.8"/><polygon fill="#FF6E00" points="1221.5,277.5 1364,277.5 1374,292.5 1404,295 1436.5,311.2 1444,336.2 1454,340 1466.5,367.5 1449,380 1436.5,385 1424,390 1409,397.5 1399,405 1386.5,411.2 1364,416.2 1349,415 1324,422.5 1299,426.2 1281.5,422.5 1266.5,427.5 1254,431.2 1239,428.8 1221.5,427.5"/><polygon fill="#FFFFC8" points="1484,333.8 1496.5,328.8 1500.2,330 1496.5,345 1495.2,365 1489,380 1481.5,391.2 1474,397 1467.8,393.8 1479,380 1487.8,366.2 1480.2,345"/><polygon fill="#D2F5FF" points="1496.5,328.8 1506.5,326.2 1505.2,340 1500.2,365 1494,380 1484,393.8 1479,398 1474,397 1481.5,391.2 1489,380 1495.2,365 1496.5,345 1500.2,330"/><polygon fill="#A0D2FF" points="1506.5,326.2 1515.2,323.8 1516.5,335 1511.5,342.5 1507.8,362.5 1501.5,375 1491.5,387.5 1485.2,399.5 1479,398 1484,393.8 1494,380 1500.2,365 1505.2,340"/><polygon fill="#00BFFF" points="1515.2,323.8 1540.2,320 1534,337.5 1522.8,345 1515.2,365 1509,376.2 1502.8,387.5 1494,400 1485.2,399.5 1491.5,387.5 1501.5,375 1507.8,362.5 1511.5,342.5 1516.5,335"/><polygon fill="#FFAA00" points="1224,277.5 1234,290 1249,305 1264,306.2 1281.5,296.2 1299,287.5 1309,277.5"/><polygon fill="#FFE132" points="1239,277.5 1246.5,287.5 1254,296.2 1264,297.5 1274,292.5 1289,283.8 1299,277.5"/><polygon fill="#FFFFC8" points="1246.5,277.5 1254,287.5 1261.5,291.2 1271.5,286.2 1281.5,277.5"/><polygon fill="#FFAA00" points="1326.5,277.5 1334,283.8 1346.5,287.5 1356.5,285 1362.8,277.5"/><polygon fill="#FFAA00" points="1244,345.5 1251.5,340 1267.8,333.8 1267.8,345.5"/><polygon fill="#FF0000" points="1315.2,323 1324,320 1336.5,320 1349,323.8 1346.5,333.8 1336.5,336.2 1325.2,335.5"/><polygon fill="#FF0000" points="1364,332.5 1369,325 1379,327.5 1391,333 1390.2,346.2 1384,357.5 1380.2,366.2 1376.5,363.8 1372.8,352.5 1371.5,342.5"/><polygon fill="#D2F5FF" points="1349,477.5 1359,467.5 1366.5,462.5 1379,463.8 1399,467.5 1386.5,473 1376.5,473.8 1375.2,477.5 1380.2,483.8 1369,487 1356.5,485.5"/><polygon fill="#A0D2FF" points="1360.2,483.8 1369,480 1374,482.5 1376.5,487 1364,486.5"/><polygon fill="#D2F5FF" points="1295.2,506.2 1304,502 1316.5,501.2 1306.5,506.2 1296.5,511.2"/><polyline fill="none" stroke="#B4B4B4" stroke-width="2.8" stroke-linejoin="round" points="1311.5,280 1306.5,290 1309,297.5 1299,305 1291.5,312.5 1290.2,326.2 1285.2,318.8 1274,325 1256.5,336.2 1241.5,345.5 1249,355 1256.5,361.2 1265.2,356.2 1270.2,360 1256.5,366.2 1256.5,371.2 1249,376.2 1246.5,383.8 1234,380 1224,380"/><polyline fill="none" stroke="#B4B4B4" stroke-width="2.8" stroke-linejoin="round" points="1256.5,371.2 1274,372.5 1279,382.5 1289,390 1301.5,391.2 1317.8,390 1324,396.2 1336.5,397.5 1349,401.2 1352.8,410 1361.5,412.5 1369,422.5 1375.2,422.5 1376.5,416.2 1382.8,415 1386.5,425 1394,435 1399,436.2 1404,431.2 1416.5,427.5 1424,426.2 1429,426.2 1431.5,433.8 1441.5,437.5 1450.2,438.8"/><polyline fill="none" stroke="#B4B4B4" stroke-width="2.8" stroke-linejoin="round" points="1224,380 1234,390 1232.8,405 1239,417.5 1254,415 1261.5,422.5 1266.5,432.5 1264,437.5 1272.8,440 1270.2,448.8 1254,453.8 1239,455 1224,460"/><polyline fill="none" stroke="#B4B4B4" stroke-width="2.8" stroke-linejoin="round" points="1272.8,440 1289,450 1297.8,447.5 1304,460 1311.5,472.5 1310.2,480 1316.5,490 1320.2,497.5 1319,501.2"/></g>
<g clip-path="url(#t5)"><rect x="60" y="590" width="408" height="310" fill="#FFFFC8"/><polygon fill="#FFAA00" points="85,587.5 415,587.5 410,606.2 385,611.2 375,617.5 377.5,632.5 392.5,637.5 410,643.8 385,650 377.5,655.5 397.5,657.5 420,658.8 440,662.5 445,665 435,677.5 422.5,682.5 410,676.2 397.5,672.5 372.5,672.5 346.2,676.2 352.5,688.8 370,688.8 381.2,686.2 375,697.5 355,701.2 341.2,707.5 342.5,720 350,730 345,737.5 342.5,752.5 365,761.2 330,771.2 335,775 355,782.5 372.5,787.5 390,792.5 410,797.5 430,795 450,790 470,797.5 470,815 447.5,827.5 85,827.5"/><polygon fill="#FFE132" points="160,587.5 175,592.5 210,597.5 230,602.5 250,601.2 270,595 310,590 335,587.5"/><polygon fill="#FFE132" points="340,672.5 372.5,672.5 397.5,672.5 410,676.2 422.5,682.5 435,677.5 445,665 470,665 470,797.5 450,790 430,795 410,797.5 390,792.5 372.5,787.5 355,782.5 335,775 330,771.2 365,761.2 342.5,752.5 345,737.5 350,730 342.5,720 341.2,707.5 355,701.2 375,697.5 381.2,686.2 370,688.8 352.5,688.8 346.2,676.2"/><polygon fill="#FFE132" points="375,617.5 385,611.2 410,606.2 415,587.5 470,587.5 470,665 440,662.5 420,658.8 397.5,657.5 377.5,655.5 385,650 410,643.8 392.5,637.5 377.5,632.5"/><polygon fill="#FFFFC8" points="392.5,705 410,700 435,695 450,686.2 460,688.8 470,697.5 470,782.5 460,785 440,790 420,782.5 385,782.5 395,773.8 392.5,762.5 385,750 370,740 390,730 392.5,715"/><polygon fill="#D2F5FF" points="432.5,720 440,717.5 452.5,730 470,735 470,751.2 460,750 450,740 435,730"/><polygon fill="#D2F5FF" points="426.2,765 435,761.2 445,763.8 451.2,775 450,782.5 435,783.8 427.5,775"/><polygon fill="#FFFFC8" points="410,632.5 427.5,622.5 442.5,610 460,605 470,607.5 470,655 450,657.5 435,650 420,643.8 405,635"/><polygon fill="#FFE132" points="436.2,620 443.8,613.8 450,620 442.5,626.2"/><polygon fill="#FFE132" points="445,601.2 450.5,596.2 455,602 450,607.5"/><polygon fill="#FFAA00" points="442.5,675 450,668 457.5,675 450,682"/><polygon fill="#FFE132" points="420,643.8 435,638.8 442.5,643.8 430,650"/><polygon fill="#FF6E00" points="142.5,612.5 160,603.8 170,603.8 185,610 200,612.5 220,608.8 235,616.2 255,617.5 272.5,613.8 285,608.8 310,597.5 335,600 347.5,592.5 360,591.2 380,600 367.5,610 367.5,627.5 371.2,642.5 362.5,651.2 370,663.8 360,665 340,660 312.5,657 305,665 292.5,675 280,683.8 267.5,687.5 255,685 261.2,676.2 252.5,672.5 242.5,676.2 240,686.2 235,690 232.5,700 237.5,707.5 225,705 217.5,710 215,725 205,722.5 196.2,698 215,698.8 203.8,661.2 212.5,655 187.5,635 182.5,627.5 160,623.8 145,618.8"/><polygon fill="#FF6E00" points="215,720 225,721.2 232.5,728.8 225,733.8 216.2,735 211.2,730"/><polygon fill="#FF6E00" points="261.2,738.8 267.5,734.5 274.5,739.5 268.8,743.8"/><polygon fill="#FF6E00" points="307.5,760 312,754.5 316.2,761.2 312.5,766.2"/><polygon fill="#FF6E00" points="412.5,802.5 420,797.5 440,796.2 455,792.5 470,792.5 470,802.5 457.5,805 440,803.8 425,807 417.5,807.5"/><polygon fill="#FF0000" points="247.5,643.2 252.5,634.5 267.5,632.5 269.5,635 257.5,640"/><polygon fill="#FFAA00" points="213.8,643.8 215.5,633.8 218,643.8"/><polygon fill="#FFAA00" points="313.8,642.5 321.2,636.2 323.8,645 317.5,645.5"/><polygon fill="#FFAA00" points="338.8,621.2 343.8,618.8 350,622.5"/><polyline fill="none" stroke="#B4B4B4" stroke-width="2.8" stroke-linejoin="round" points="212.5,654.5 225,653 231.2,650 235,641.2 240,635 243.8,630 252.5,631.2 260,630.5 272.5,633.8 280,632.5 286.2,627.5 293.8,623 303.8,623.8 307.5,628.8 320,630.5 335,629.5 345,625 357.5,622 367.5,622.5 377.5,618.8 382.5,612.5 395,610 410,607.5 432.5,605 442.5,607.5 457.5,610 470,611.2"/><polyline fill="none" stroke="#B4B4B4" stroke-width="2.8" stroke-linejoin="round" points="470,613.8 464.5,620 460,635 466.2,647.5 465,662.5 470,665"/></g>
<g clip-path="url(#t6)"><rect x="468" y="590" width="408" height="310" fill="#FFFFC8"/><polygon fill="#FFE132" points="503,632.5 513,622.5 530.5,615 553,615 568,608.8 585.5,605 608,606.2 628,605 643,595 658,590 675.5,590 675.5,605 673,617.5 665.5,630 653,637.5 643,635 623,638.8 608,637.5 603,643.8 613,650 630.5,652.5 643,657.5 628,658.8 608,657.5 588,648.8 573,646.2 560.5,652.5 543,658.8 525.5,657.5 513,650 503,642.5"/><polygon fill="#FFFFC8" points="536.8,632.5 548,625 555.5,616.2 563,623.8 585.5,627.5 600.5,633.8 588,636.2 578,641.2 563,642.5 548,642.5"/><polygon fill="#FFAA00" points="585.5,615 595.5,610 613,611.2 630.5,615 648,618.8 656.8,622.5 643,626.2 623,625 608,626.2 593,622.5"/><polygon fill="#FFAA00" points="638,588.8 648,595 660.5,595 668,588.8"/><polygon fill="#FFE132" points="473,616.2 480.5,613.8 485.5,617.5 483,623.8 474.2,622.5"/><polygon fill="#FFE132" points="465.5,648.8 475.5,655 488,665 508,667.5 530.5,665 550.5,662.5 568,660 583,655 603,656.2 618,665 638,670 648,662.5 658,658.8 668,662.5 678,672.5 693,671.2 718,670 725.5,675 718,681.2 693,682.5 683,686.2 668,688.8 653,692.5 648,700 643,707.5 628,710 608,712.5 593,715 578,722.5 560.5,726.2 550.5,735 538,747.5 525.5,755 516.8,750 518,740 530.5,732.5 518,725 493,720 478,707.5 465.5,707.5"/><polygon fill="#FFFFC8" points="553,695 558,681.2 564.2,690 568,697.5 560.5,703.8"/><polygon fill="#FFFFC8" points="598,676.2 618,671.2 625.5,675 608,680"/><polygon fill="#FFFFC8" points="658,665 668,662.5 675.5,673.8 665.5,681.2 659.2,675"/><polygon fill="#FFAA00" points="465.5,672.5 478,670 493,675 513,667.5 523,675 543,682.5 548,690 538,697.5 528,702.5 518,692.5 498,687.5 478,685 465.5,682.5"/><polygon fill="#FF6E00" points="495.5,677.5 513,672.5 525.5,685 515.5,687.5 505.5,681.2"/><polygon fill="#FF6E00" points="524.2,692.5 533,693.8 530.5,697.5"/><polygon fill="#FFAA00" points="573,685 580.5,670 590.5,660 603,657.5 613,665 603,670 593,677.5 588,690 578,695"/><polygon fill="#FFAA00" points="648,663.8 655.5,661.2 655.5,675 649.2,672.5"/><polygon fill="#FFAA00" points="680.5,676.2 693,673.8 718,673.8 721.8,676.2 718,678.8 693,678.8"/><polygon fill="#FFAA00" points="519.2,747.5 521.8,740 538,735 553,726.2 559.2,727.5 550.5,737.5 535.5,748.8 525.5,753.8"/><polygon fill="#D2F5FF" points="465.5,731.2 488,730 505.5,733.8 510.5,740 505.5,750 500.5,760 523,770 513,772.5 493,771.2 478,765 465.5,752.5"/><polygon fill="#FFE132" points="465.5,780 483,777.5 505.5,776.2 530.5,778.8 540.5,790 550.5,802.5 558,812.5 555.5,822.5 550.5,830 520.5,832.5 505.5,807.5 465.5,802.5"/><polygon fill="#FFAA00" points="465.5,785 483,781.2 493,778.8 518,780 535.5,787.5 543,800 538,810 525.5,811.2 508,805 493,802.5 465.5,801.2"/><polygon fill="#FF6E00" points="520.5,801.2 534.2,795 541.8,802.5 536.8,808.8 525.5,807.5"/><polygon fill="#FFE132" points="595.5,790 608,785 618,782.5 608,771.2 618,775 628,783.8 640.5,790 638,802.5 623,802.5 608,798.8"/><polygon fill="#FFE132" points="668,805 676.8,802.5 677.5,813.8 671,814.5"/><polygon fill="#D2F5FF" points="550.5,787.5 540.5,782.5 538,750 553,740 573,732.5 588,726.2 608,725 628,720 643,712.5 658,707.5 673,702.5 693,697.5 713,693.8 733,690 748,685 763,677.5 768,670 793,670 818,675 843,676.2 878,672.5 878,902.5 818,902.5 813,877.5 805.5,860 790.5,845 778,840 768,830 753,825 738,817.5 728,815 718,810 708,815 700.5,807.5 693,797.5 680.5,790 668,790 653,785 648,775 638,770 623,775 608,770 598,765 593,770 585.5,780 578,790 568,797.5 558,796.2"/><polygon fill="#D2F5FF" points="670.5,640 680.5,627.5 685.5,602.5 695.5,593.8 705.5,600 711.8,615 713,635 718,645 730.5,655 743,660 758,667.5 768,672.5 763,680 733,690 713,693.8 693,697.5 675.5,701.2 683,686.2 693,682.5 718,681.2 725.5,675 718,670 693,671.2 683,665 678,652.5"/><polygon fill="#A0D2FF" points="688,632.5 695.5,626.2 701.8,632.5 695.5,638"/><polygon fill="#D2F5FF" points="748,600 763,593.8 780.5,595 793,600 788,607.5 773,611.2 758,607.5"/><polygon fill="#A0D2FF" points="733,663.8 739.2,660 745.5,665 739.2,670"/><polygon fill="#D2F5FF" points="486.8,597.5 495.5,595 501.8,600 495.5,605"/><polygon fill="#A0D2FF" points="548,787.5 539.2,780 539.2,751.2 553,742.5 573,735 588,727.5 598,728.8 603,735 618,732.5 638,720 658,712.5 673,707.5 693,702.5 713,697.5 733,693.8 748,690 768,685 780.5,695 800.5,688.8 810.5,695 818,690 843,692.5 878,695 878,902.5 823,902.5 815.5,877.5 808,855 780.5,830 768,822.5 763,802.5 753,790 750.5,775 758,760 771.8,740 770.5,730 758,740 748,750 738,765 730.5,777.5 718,785 708,787.5 693,785 683,787.5 668,787.5 653,782.5 650.5,772.5 655.5,765 653,760 640.5,755 628,752.5 618,755 608,750 593,760 585.5,772.5 575.5,782.5 568,790 560.5,795 553,795"/><polygon fill="#D2F5FF" points="615.5,745 628,737.5 648,736.2 668,737.5 675.5,740 658,750 643,756.2 623,755"/><polygon fill="#FFFFC8" points="615.5,747.5 623,738.8 633,742.5 643,750 630.5,753.8 620.5,752.5"/><polygon fill="#FFFFC8" points="646.8,740 665.5,737.5 668,741.2 655.5,746.2"/><polygon fill="#D2F5FF" points="748,750 758,740 770.5,730 771.8,740 758,760 750.5,775 753,790 763,802.5 743,810 728,805 718,795 718,785 730.5,777.5 738,765"/><polygon fill="#FFFFC8" points="757.5,745 761.8,738.8 764.2,742.5 761,751.2"/><polygon fill="#00BFFF" points="543,785 539.2,775 539.2,752.5 553,743.8 573,736.2 588,728.8 599.2,730 598,740 585.5,747.5 578,760 568,772.5 555.5,780"/><polygon fill="#00BFFF" points="596.8,760 608,751.2 618,757.5 628,760 640.5,760 633,775 623,776.2 613,767.5 603,765"/><polygon fill="#00BFFF" points="643,727.5 655.5,716.2 668,712.5 683,718.8 675.5,726.2 665.5,732.5 653,731.2"/><polygon fill="#00BFFF" points="683,726.2 693,715 713,709.5 726.8,717.5 718,725 708,730 715.5,740 716.8,765 708,777.5 693,777.5 675.5,778.8 663,765 660.5,752.5 668,745 683,742.5 701.8,740 693,732.5"/><polygon fill="#00BFFF" points="720.5,737.5 729.2,710 738,700 755.5,695 771.8,692.5 778,702.5 773,715 765.5,725 750.5,742.5 740.5,748.8 728,743.8"/><polygon fill="#00BFFF" points="768,673.8 793,673.8 813,676.2 818,690 843,692.5 878,696.2 878,902.5 828,902.5 820.5,877.5 818,852.5 803,840 783,827.5 773,822.5 765.5,802.5 758,780 760.5,760 775.5,737.5 778,725 793,710 803,697.5 793,693.8 780.5,695 768,685"/><polygon fill="#A0D2FF" points="771.8,726.2 790.5,707.5 805.5,695 808,697.5 793,712.5 778,728.8"/><polygon fill="#FFFFC8" points="778,720 800.5,697.5 804.2,697.5 783,717.5"/><polygon fill="#1E90FF" points="548,781.2 540.5,770 540.5,755 553,745 568,737.5 580.5,736.2 585.5,740 578,750 570.5,762.5 560.5,772.5"/><polygon fill="#4169E1" points="545.5,770 546,753.8 553,750 560.5,752.5 559.2,760"/><polygon fill="#1E90FF" points="661.8,718.8 665.5,716.2 669.2,718.8 665.5,721.2"/><polygon fill="#1E90FF" points="714.2,718 718,717 719.2,719 715.5,720"/><polygon fill="#1E90FF" points="743,715 749.2,707.5 755.5,716.2 749.2,722.5"/><polygon fill="#1E90FF" points="688,752.5 695.5,748.8 701.8,760 695.5,768.8 689.2,762.5"/><polygon fill="#1E90FF" points="766.8,762.5 775.5,740 778,730 793,712.5 818,707.5 828,710 835.5,720 848,715 858,720 863,732.5 858,745 878,750 878,887.5 868,890 843,890 828,885 823,865 818,845 803,835 785.5,827.5 775.5,815 768,790"/><polygon fill="#00BFFF" points="803,760 813,746.2 818,760 814.2,778.8"/><polygon fill="#4169E1" points="778,762.5 781.8,751.2 788,762.5 782.5,775"/><polygon fill="#4169E1" points="858,833.8 868,827.5 878,828.8 878,842.5 868,842.5"/><polygon fill="#FFE132" points="681.8,885 693,870 708,866.2 728,872.5 743,882.5 745.5,895 740.5,902.5 728,902.5 718,890 708,885 698,890 693,902.5 685.5,902.5"/><polygon fill="#FFE132" points="755.5,867.5 765.5,865 773,868.8 776.8,877.5 774.2,890 778,902.5 763,902.5 765.5,890 758,877.5"/><polygon fill="#FFE132" points="750.5,642.5 755.5,627.5 768,622.5 793,625 818,622.5 833,610 828,590 878,590 878,672.5 858,665 843,655 818,662.5 800.5,665 783,660 773,657.5 758,652.5"/><polygon fill="#FFFFC8" points="818,642.5 823,627.5 833,625 843,627.5 848,640 838,652.5 828,650"/><polygon fill="#FFAA00" points="765.5,640 770.5,632.5 788,631.2 803,636.2 805.5,647.5 798,656.2 783,656.2 771.8,650"/><polygon fill="#FFAA00" points="854.2,632.5 878,635 878,665 865.5,662.5 855.5,652.5"/><polygon fill="#FF6E00" points="865.5,642.5 878,640 878,657.5 868,655"/><polygon fill="#FFAA00" points="838,588.8 843,595 858,600 868,597.5 878,600 878,588.8"/><polyline fill="none" stroke="#B4B4B4" stroke-width="2.8" stroke-linejoin="round" points="468,612.5 478,610 488,613.8 496.8,612.5 498,602.5 489.2,597.5 501.8,590"/><polyline fill="none" stroke="#B4B4B4" stroke-width="2.8" stroke-linejoin="round" points="468,667.5 478,677.5 493,683.8 518,690 543,695 568,698.8 580.5,697.5 593,701.2 600.5,712.5 618,717.5 630.5,711.2 643,707.5 646.8,697.5 653,682.5 654.2,672.5 648,667.5 653,661.2 660.5,658.8 670.5,662.5 678,677.5 688,685 705.5,688.8 711.8,692.5 720.5,696.2 733,695 736.8,682.5 750.5,685 753,675 743,670 730.5,662.5 729.2,656.2 740.5,655 758,657.5 778,656.2 788,667.5 800.5,671.2 813,677.5 815.5,690 828,695 843,693.8 853,691.2 878,692.5"/><polyline fill="none" stroke="#B4B4B4" stroke-width="2.8" stroke-linejoin="round" points="758,657.5 755.5,642.5 765.5,631.2 774.2,627.5 780.5,615 774.2,600 768,590"/><polyline fill="none" stroke="#B4B4B4" stroke-width="2.8" stroke-linejoin="round" points="853,691.2 848,680 853,673.8 865.5,672.5 863,652.5 870.5,642.5 860.5,622.5 868,615 863,600 870.5,590"/><polyline fill="none" stroke="#B4B4B4" stroke-width="2.8" stroke-linejoin="round" points="833,590 838,605 848,617.5 863,622.5"/><polyline fill="none" stroke="#B4B4B4" stroke-width="2.8" stroke-linejoin="round" points="679.2,728.8 685.5,740 686.8,765 688,780 678,785 676.8,800 668,797.5"/><polyline fill="none" stroke="#B4B4B4" stroke-width="2.8" stroke-linejoin="round" points="688,780 695.5,790 701.8,787.5 710.5,797.5 711.8,805 718,810 725.5,808.8 733,820 743,835 745.5,842.5 753,840 755.5,851.2 775.5,847.5 783,846.2 780.5,835 778,822.5 785.5,815 791.8,805"/><polyline fill="none" stroke="#B4B4B4" stroke-width="2.8" stroke-linejoin="round" points="791.8,805 800.5,792.5 808,790 818,787.5 838,785 855.5,787.5 863,792.5 865.5,787.5 868,780 858,770 843,770 835.5,767.5 845.5,752.5 858,750 878,756.2"/><polyline fill="none" stroke="#B4B4B4" stroke-width="2.8" stroke-linejoin="round" points="808,792.5 813,805 828,807.5 833,802.5 843,807.5 858,810 856.8,802.5 843,797.5 848,790 863,792.5"/><polyline fill="none" stroke="#B4B4B4" stroke-width="2.8" stroke-linejoin="round" points="780.5,820 795.5,827.5 800.5,820 818,815 828,821.2 843,821.2 855.5,813.8"/><polyline fill="none" stroke="#B4B4B4" stroke-width="2.8" stroke-linejoin="round" points="795.5,827.5 803,837.5 815.5,838.8 820.5,850 818,865 823,872.5 815.5,885 825.5,886.2 843,880 855.5,882.5 878,870"/><polyline fill="none" stroke="#B4B4B4" stroke-width="2.8" stroke-linejoin="round" points="815.5,885 818,893.8 830.5,893.8 835.5,900"/><polyline fill="none" stroke="#87CEEB" stroke-width="2.2" stroke-linejoin="round" points="495.5,676.2 496.8,656.2 518,658.8 540.5,660 560.5,656.2 575.5,647.5 588,646.2 600.5,652.5 613,662.5 630.5,675 643,685 650.5,695 665.5,702.5 673,717.5 679.2,728.8 685.5,750 688,775 689.2,790 698,815 709.2,831.2 715.5,815 720.5,847.5 733,845 743,840"/><polyline fill="none" stroke="#87CEEB" stroke-width="2.2" stroke-linejoin="round" points="634.2,638.8 645.5,643.8 658,637.5 670.5,647.5 680.5,652.5 688,665 708,670 718,671.2 728,667.5 743,670 763,672.5"/><polyline fill="none" stroke="#87CEEB" stroke-width="2.2" stroke-linejoin="round" points="763,672.5 738,652.5 718,640 713,627.5 718,617.5 728,612.5 748,613.8 768,620 785.5,618.8 800.5,612.5 818,605 820.5,597.5 813,590"/></g>
<g clip-path="url(#t7)"><rect x="876" y="590" width="408" height="310" fill="#FFFFC8"/><polygon fill="#1E90FF" points="873.5,587.5 1286,587.5 1286,902.5 873.5,902.5"/><polygon fill="#00BFFF" points="873.5,693.8 891,686.2 921,675 938.5,665 958.5,661.2 971,650 986,638.8 1006,633.8 1026,641.2 1051,638.8 1076,636.2 1096,625 1116,620 1141,625 1163.5,630 1176,625 1201,605 1226,591.2 1286,587.5 1286,740 1231,740 1228.5,715 1206,695 1201,700 1186,695 1171,685 1156,677.5 1148.5,662.5 1148.5,650 1141,642.5 1126,638.8 1106,637.5 1093.5,648.8 1086,655 1076,665 1066,672.5 1048.5,673.8 1031,673.8 1026,685 1011,695 1008.5,710 996,717.5 986,707.5 993.5,700 993.5,685 983.5,667.5 971,667.5 951,677.5 936,682.5 923.5,695 931,702.5 931,720 928.5,730 933.5,740 911,740 896,750 876,755 873.5,755"/><polygon fill="#A0D2FF" points="873.5,587.5 1211,587.5 1196,597.5 1176,613.8 1163.5,616.2 1141,610 1116,606.2 1096,613.8 1076,621.2 1051,626.2 1026,628.8 1006,625 983.5,628.8 968.5,641.2 958.5,653.8 938.5,658.8 913.5,663.8 891,680 873.5,690"/><polygon fill="#D2F5FF" points="873.5,587.5 1173.5,587.5 1151,595 1126,602.5 1101,605 1081,615 1051,618.8 1026,621.2 1006,618.8 981,621.2 963.5,637.5 951,650 926,657.5 901,667.5 873.5,686.2"/><polygon fill="#FFFFC8" points="873.5,587.5 981,587.5 978.5,605 971,617.5 958.5,635 946,647.5 926,652.5 901,662.5 873.5,680"/><polygon fill="#FFFFC8" points="1071,588.8 1083.5,593.8 1101,592.5 1121,588.8"/><polygon fill="#FFE132" points="873.5,587.5 964.8,587.5 964.8,605 958.5,617.5 951,625 938.5,635 923.5,643.8 924.8,655 913.5,662.5 891,670 873.5,675"/><polygon fill="#FFAA00" points="873.5,638.8 891,636.2 901,627.5 918.5,625 932.2,630 918.5,636.2 903.5,643.8 901,652.5 908.5,658.8 896,665 873.5,670"/><polygon fill="#FFAA00" points="934.8,606.2 942.2,600 951,607.5 946,613.8 937.2,612.5"/><polygon fill="#FFFFC8" points="873.5,608.8 883.5,607.5 891,613.8 888.5,622.5 878.5,627.5 873.5,627.5"/><polygon fill="#4169E1" points="873.5,830 891,822.5 903.5,815 908.5,805 923.5,792.5 929.8,796.2 951,795 976,792.5 996,797.5 1008.5,795 1011,770 1031,762.5 1046,737.5 1056,722.5 1053.5,705 1059.8,691.2 1066,707.5 1086,710 1113.5,712.5 1138.5,708.8 1151,712.5 1176,730 1201,740 1221,750 1226,765 1218.5,787.5 1206,802.5 1191,810 1171,807.5 1151,800 1138.5,805 1121,810 1111,820 1101,832.5 1091,842.5 1076,850 1061,855 1041,847.5 1036,865 1016,872.5 996,877.5 976,880 958.5,877.5 956,860 936,852.5 926,840 901,833.8 873.5,837.5"/><polygon fill="#0000CD" points="978.5,836.2 988.5,827.5 1006,822.5 1021,815 1027.2,805 1032.2,815 1039.8,822.5 1042.2,833.8 1036,845 1026,855 1016,865 1006,867.5 996,855 993.5,848.8 981,845"/><polygon fill="#0000CD" points="1100.5,761.2 1104.8,760 1104,772.5 1101,773"/><polygon fill="#00BFFF" points="873.5,865 886,872.5 906,877.5 926,887.5 951,890 976,891.2 996,887.5 1016,885 1036,871.2 1051,880 1071,876.2 1088.5,871.2 1096,860 1101,845 1108.5,835 1116,827.5 1126,821.2 1141,816.2 1156,821.2 1163.5,830 1161,845 1163.5,860 1158.5,875 1151,882.5 1136,890 1126,902.5 873.5,902.5"/><polygon fill="#A0D2FF" points="1016,902.5 1026,890 1038.5,880 1051,885 1071,882.5 1088.5,875 1096,862.5 1106,852.5 1121,842.5 1136,837.5 1146,842.5 1147.2,855 1148.5,870 1141,882.5 1126,902.5"/><polygon fill="#A0D2FF" points="883.5,890 891,885 903.5,890 908.5,902.5 886,902.5"/><polygon fill="#D2F5FF" points="1021,902.5 1031,893.8 1046,887.5 1071,887.5 1091,877.5 1101,865 1113.5,852.5 1126,845 1136,843.8 1141,852.5 1141,870 1133.5,882.5 1121,902.5"/><polygon fill="#FFFFC8" points="1023.5,902.5 1036,896.2 1051,892.5 1076,890 1093.5,880 1106,867.5 1116,857.5 1128.5,851.2 1134.8,855 1136,870 1128.5,882.5 1116,902.5"/><polygon fill="#FFE132" points="1088.5,902.5 1091,887.5 1101,877.5 1116,867.5 1124.8,865 1127.2,872.5 1121,882.5 1113.5,892.5 1111,902.5"/><polygon fill="#FFE132" points="1026,902.5 1031,898.8 1041,900 1043.5,902.5"/><polygon fill="#FFAA00" points="1097.2,887.5 1103.5,880 1113.5,876.2 1119.8,880 1113.5,887.5 1103.5,892.5"/><polyline fill="none" stroke="#B4B4B4" stroke-width="2.8" stroke-linejoin="round" points="876,592.5 891,597.5 906,602.5 914.8,610 913.5,627.5 903.5,632.5 893.5,633.8 891,640 876,637.5"/><polyline fill="none" stroke="#B4B4B4" stroke-width="2.8" stroke-linejoin="round" points="1036,590 1031,600 1036,607.5 1056,611.2 1071,613.8 1076,608.8 1073.5,600 1083.5,590"/><polyline fill="none" stroke="#B4B4B4" stroke-width="2.8" stroke-linejoin="round" points="1073.5,618.8 1083.5,616.2 1092.2,612.5"/><polyline fill="none" stroke="#B4B4B4" stroke-width="2.8" stroke-linejoin="round" points="1036,607.5 1033.5,620 1026,627.5 1006,632.5 996,635 994.8,638.8 1013.5,643.8 1031,641.2 1061,640 1068.5,641.2 1076,648.8 1091,650 1098.5,643.8 1108.5,642.5 1116,651.2 1126,650 1138.5,648.8 1143.5,652.5 1151,646.2 1158.5,640 1166,637.5"/><polyline fill="none" stroke="#B4B4B4" stroke-width="2.8" stroke-linejoin="round" points="1091,650 1101,657.5 1102.2,663.8 1096,668.8 1088.5,663.8 1081,663.8 1073.5,677.5 1063.5,686.2 1068.5,695 1076,700 1086,697.5 1087.2,710 1083.5,716.2 1076,722.5 1071,725"/><polyline fill="none" stroke="#B4B4B4" stroke-width="2.8" stroke-linejoin="round" points="1098.5,643.8 1096,650 1108.5,655 1116,662.5 1128.5,665 1138.5,670 1138.5,680 1146,692.5 1153.5,695 1158.5,688.8 1164.8,692.5 1163.5,698.8 1151,697.5 1152.2,705 1146,710 1147.2,717.5 1156,720 1158.5,727.5 1176,730 1191,735 1198.5,738.8 1208.5,732.5 1213.5,722.5 1221,717.5"/><polyline fill="none" stroke="#B4B4B4" stroke-width="2.8" stroke-linejoin="round" points="956,648.8 962.2,662.5 969.8,675 968.5,682.5 976,690 983.5,697.5 1001,701.2 1016,701.2 1032.2,701.2 1038.5,712.5 1051,717.5 1061,722.5 1071,725 1083.5,735 1088.5,740 1083.5,745 1091,762.5"/><polyline fill="none" stroke="#B4B4B4" stroke-width="2.8" stroke-linejoin="round" points="968.5,682.5 951,682.5 936,682.5 938.5,686.2 949.8,690 948.5,695 937.2,697.5 937.2,715 948.5,725 949.8,735 938.5,740 921,742.5 909.8,747.5 911,760 908.5,762.5 921,770 929.8,780 929.8,797.5 923.5,801.2 919.8,800 911,790 906,782.5 891,778.8 881,782.5 876,785"/><polyline fill="none" stroke="#B4B4B4" stroke-width="2.8" stroke-linejoin="round" points="876,696.2 891,701.2 908.5,706.2 911,715 903.5,725 896,737.5 886,740 876,755"/><polyline fill="none" stroke="#B4B4B4" stroke-width="2.8" stroke-linejoin="round" points="908.5,706.2 921,710 937.2,715"/><polyline fill="none" stroke="#B4B4B4" stroke-width="2.8" stroke-linejoin="round" points="929.8,780 933.5,767.5 948.5,762.5 958.5,762.5 961,756.2 971,755 986,760 998.5,765 1008.5,766.2 1014.8,763.8 1016,768.8"/><polyline fill="none" stroke="#B4B4B4" stroke-width="2.8" stroke-linejoin="round" points="1032.2,762.5 1036,777.5 1042.2,783.8 1046,795 1041,802.5 1033.5,813.8 1032.2,820 1039.8,827.5 1042.2,840 1044.8,851.2 1039.8,861.2 1041,870 1051,867.5 1058.5,872.5 1051,881.2 1048.5,886.2 1066,887.5 1083.5,886.2"/><polyline fill="none" stroke="#B4B4B4" stroke-width="2.8" stroke-linejoin="round" points="1042.2,777.5 1051,775 1066,768.8 1076,762.5 1078.5,761.2"/><polyline fill="none" stroke="#B4B4B4" stroke-width="2.8" stroke-linejoin="round" points="1106,767.5 1116,761.2 1126,766.2 1138.5,770 1151,762.5 1158.5,752.5 1166,745 1171,737.5 1176,730"/><polyline fill="none" stroke="#B4B4B4" stroke-width="2.8" stroke-linejoin="round" points="1138.5,770 1137.2,780 1144.8,787.5 1147.2,797.5 1136,803.8 1121,807.5 1113.5,816.2 1113.5,822.5 1103.5,832.5 1101,845 1096,857.5 1088.5,870 1083.5,886.2 1098.5,883.8 1108.5,887.5 1112.2,900"/><polyline fill="none" stroke="#B4B4B4" stroke-width="2.8" stroke-linejoin="round" points="1147.2,797.5 1153.5,800 1158.5,815 1166,818.8 1173.5,815 1181,822.5 1188.5,820 1193.5,825"/><polyline fill="none" stroke="#B4B4B4" stroke-width="2.8" stroke-linejoin="round" points="929.8,797.5 933.5,815 919.8,827.5 933.5,830 932.2,847.5 934.8,852.5 926,857.5 913.5,867.5 901,873.8 891,867.5 876,863.8"/><polyline fill="none" stroke="#B4B4B4" stroke-width="2.8" stroke-linejoin="round" points="934.8,852.5 943.5,850 951,852.5 961,846.2 972.2,845 976,852.5 979.8,860 974.8,870 969.8,877.5 981,881.2 993.5,883.8 992.2,900"/><polyline fill="none" stroke="#B4B4B4" stroke-width="2.8" stroke-linejoin="round" points="993.5,883.8 998.5,873.8 1011,872.5 1016,876.2 1021,866.2 1036,867.5 1041,870"/><polyline fill="none" stroke="#87CEEB" stroke-width="2.2" stroke-linejoin="round" points="956,590 958.5,605 954.8,630 956,648.8 968.5,647.5 986,640 1006,637.5 1021,642.5 1041,641.2 1061,640"/><polyline fill="none" stroke="#87CEEB" stroke-width="2.2" stroke-linejoin="round" points="1061,640 1071,627.5 1083.5,620 1101,607.5 1116,595 1123.5,590"/><polyline fill="none" stroke="#87CEEB" stroke-width="2.2" stroke-linejoin="round" points="876,765 891,761.2 901,747.5 911,737.5 931,735 953.5,733.8 971,737.5 986,750 1001,755 1003.5,762.5 1016,762.5 1018.5,770 1026,765 1041,755 1048.5,745 1058.5,743.8 1071,755 1078.5,761.2 1091,762.5 1106,757.5 1116,745 1136,730 1146,717.5 1151,707.5 1161,705 1176,706.2 1188.5,711.2 1201,710 1213.5,717.5 1226,720"/></g>
<g clip-path="url(#t8)"><rect x="1100" y="560" width="270" height="205" fill="#FFFFC8"/><polygon fill="#1E90FF" points="1098.3,558.3 1381.3,558.3 1381.3,775.1 1098.3,775.1"/><polygon fill="#FFFFC8" points="1098.3,558.3 1133.1,558.3 1138.1,569.1 1154.6,567.4 1141.4,576.5 1129.8,583.2 1116.5,589 1100,592.3 1098.3,592.3"/><polygon fill="#D2F5FF" points="1098.3,592.3 1116.5,589 1129.8,583.2 1141.4,576.5 1154.6,567.4 1164.2,573.2 1157.9,579 1156.3,584.8 1162.9,589 1172.8,589.8 1179.4,587.3 1182.7,582.3 1191,575.7 1200.9,573.2 1215.8,578.2 1230.7,580.7 1246.4,582.3 1243.9,586.5 1229.1,587.3 1215.8,590.6 1209.2,590.6 1199.3,589.8 1189.3,593.1 1179.4,601.4 1166.2,610.5 1154.6,606.3 1144.7,603.8 1133.1,603 1123.2,605.5 1106.6,605.5 1098.3,607.2"/><polygon fill="#A0D2FF" points="1098.3,607.2 1106.6,605.5 1123.2,605.5 1133.1,603 1144.7,603.8 1154.6,606.3 1166.2,610.5 1179.4,601.4 1189.3,593.1 1199.3,589.8 1209.2,590.6 1212.5,597.2 1229.1,589.8 1243.9,587.3 1242.3,594.7 1205.9,604.7 1189.3,617.1 1176.1,625.4 1170.3,632.8 1166.2,626.2 1154.6,622.9 1133.1,621.2 1116.5,617.1 1098.3,617.1"/><polygon fill="#00BFFF" points="1098.3,617.1 1116.5,617.1 1133.1,621.2 1154.6,622.9 1166.2,626.2 1170.3,632.8 1165.4,637.8 1156.3,639.4 1148,642.7 1133.1,639.4 1119.9,637.8 1106.6,636.9 1098.3,639.4"/><polygon fill="#00BFFF" points="1148,652.7 1154.6,647.7 1166.2,646 1174.5,651 1182.7,652.7 1191,657.6 1196,667.5 1204.2,687.4 1204.6,695.7 1192.7,690.7 1179.4,685.7 1166.2,680.8 1156.3,677.5 1151.3,670.9 1148,662.6"/><polygon fill="#A0D2FF" points="1176.1,651.8 1182.7,652.7 1190.2,657.6 1195.1,667.5 1189.3,660.9 1184.4,656.8"/><polygon fill="#4169E1" points="1098.3,712.2 1116.5,710.6 1133.1,708.9 1149.6,711.4 1162.9,715.5 1172.8,722.1 1182.7,728.8 1192.7,733.7 1205.9,742 1215.8,741.2 1205.9,747 1199.3,751.9 1214.2,751.1 1227.4,758.5 1224.1,766.8 1098.3,766.8"/><polygon fill="#1E90FF" points="1224.1,761 1230.7,758.5 1232.4,766.8 1223.3,766.8"/><polygon fill="#00BFFF" points="1221.6,709.7 1226.6,711.4 1228.2,716.4 1224.1,716.4"/><polygon fill="#0000CD" points="1098.3,761 1105,759.4 1107.4,762.7 1103.3,766 1098.3,766"/><polyline fill="none" stroke="#B4B4B4" stroke-width="2.8" stroke-linejoin="round" points="1100,576.5 1109.9,572.4 1121.5,570.8 1129.8,565 1133.1,561.7"/><polyline fill="none" stroke="#B4B4B4" stroke-width="2.8" stroke-linejoin="round" points="1100,641.1 1109.9,641.9 1114.9,647.7 1118.2,651.8 1123.2,650.2 1129.8,651 1135.6,647.7 1141.4,653.5 1146.3,650.2 1149.6,646.9 1154.6,643.6 1157.9,638.6 1165.4,636.9"/><polyline fill="none" stroke="#B4B4B4" stroke-width="2.8" stroke-linejoin="round" points="1100,650.2 1108.3,654.3 1113.2,659.3 1124.8,663.4 1131.4,668.4 1138.9,670 1139.7,674.2 1135.6,679.1 1139.7,684.1 1143,689.1 1148,692.4 1154.6,692.4 1157.1,688.2 1162,689.1 1165.4,694 1163.7,698.2 1156.3,696.5 1150.5,697.3 1152.9,703.9 1147.2,707.3 1145.5,712.2 1149.6,717.2 1155.4,721.3 1154.6,727.1 1162.9,728.8 1174.5,729.6 1182.7,730.4 1186,734.6 1192.7,735.4 1196,738.7 1202.6,733.7 1207.5,732.1 1210,725.5 1215.8,723 1214.2,715.5 1219.1,717.2 1228.2,719.7"/><polyline fill="none" stroke="#B4B4B4" stroke-width="2.8" stroke-linejoin="round" points="1207.5,732.1 1209.2,738.7 1215.8,741.2 1227.4,741.2 1234,737.9"/><polyline fill="none" stroke="#B4B4B4" stroke-width="2.8" stroke-linejoin="round" points="1174.5,729.6 1172.8,737.9 1166.2,742 1167.8,748.6 1157.9,751.9 1156.3,760.2 1152.9,765"/><polyline fill="none" stroke="#B4B4B4" stroke-width="2.8" stroke-linejoin="round" points="1100,656 1102.5,659.3 1102.5,664.2 1100,666.7"/><polyline fill="none" stroke="#B4B4B4" stroke-width="2.8" stroke-linejoin="round" points="1113.2,765 1116.5,761 1121.5,761.9 1124.8,765"/><polyline fill="none" stroke="#87CEEB" stroke-width="2.2" stroke-linejoin="round" points="1100,608 1106.6,600.5 1119.9,592.3 1133.1,584.8 1146.3,577.4 1156.3,573.2 1164.2,574.1"/><polyline fill="none" stroke="#87CEEB" stroke-width="2.2" stroke-linejoin="round" points="1228.2,719.7 1215.8,716.4 1199.3,709.7 1186,710.6 1177.8,705.6 1166.2,705.3 1154.6,706.4 1149.6,710.6 1147.2,718.8 1143,727.1 1131.4,733.7 1119.9,742 1109.9,748.6 1105,758.5 1100,761"/></g>
<g clip-path="url(#t9)"><rect x="600" y="860" width="408" height="310" fill="#FFFFC8"/><polygon fill="#FFE132" points="681.2,888.8 686.2,877.5 697.5,867.5 712.5,867.5 730,872.5 742.5,882.5 745,895 740,906.2 732.5,911.2 738.8,920 732.5,930 720,932.5 707.5,928.8 702.5,918.8 707.5,913.8 725,911.2 730,903.8 727.5,892.5 717.5,886.2 705,885 697.5,892.5 687.5,897.5"/><polygon fill="#FFE132" points="756.2,867.5 762.5,865 772.5,867.5 775,878.8 772.5,890 777.5,900 780,910 770,912.5 757.5,911.2 760,900 765,890 760,881.2"/><polygon fill="#FFE132" points="802.5,908.8 812.5,907 825,912.5 835,916.2 825,920 812.5,915"/><polygon fill="#FFE132" points="738.8,957.5 750,957.5 751.2,965 740,966.2"/><polygon fill="#FFE132" points="700,941.2 707.5,941.2 717.5,953.8 710,948.8"/><polygon fill="#D2F5FF" points="811.2,857.5 810,875 812.5,892.5 820,902.5 837.5,912.5 850,920 862.5,926.2 875,927.5 887.5,932.5 900,935 915,930 932.5,928.8 950,926.2 967.5,927.5 980,922.5 990,917.5 1000,916.2 1010,915 1010,857.5"/><polygon fill="#A0D2FF" points="813.8,857.5 812.5,875 815,890 822.5,900 840,907.5 855,913.8 867.5,917.5 880,916.2 900,920 912.5,915 932.5,913.8 950,912.5 967.5,913.8 982.5,910 995,907.5 1010,907.5 1010,857.5"/><polygon fill="#FFE132" points="870,930 877.5,932.5 890,938.8 900,942.5 917.5,940 935,938.8 950,940 962.5,942.5 980,935 990,927.5 1010,921.2 1010,956.2 990,956.2 985,947.5 975,955 960,960 942.5,960 925,958.8 900,958 885,956.2 868.8,946.2"/><polygon fill="#FFFFC8" points="947.5,946.2 960,941.2 965,947.5 955,958.8 943.8,958.8"/><polygon fill="#00BFFF" points="817.5,857.5 820,875 817.5,885 825,897.5 840,903.8 850,908.8 867.5,916.2 882.5,911.2 885,897.5 886.2,887.5 892.5,883.8 902.5,890 915,898.8 925,903.8 950,906.2 975,902.5 990,897.5 1010,895 1010,857.5"/><polygon fill="#1E90FF" points="825,857.5 826.2,875 825,885 835,891.2 850,886.2 870,878.8 887.5,872.5 900,876.2 917.5,885 935,891.2 960,892.5 985,886.2 1010,880 1010,857.5"/><polygon fill="#4169E1" points="957.5,857.5 956.2,867.5 960,877.5 975,877.5 990,872.5 1010,870 1010,857.5"/><polygon fill="#0000CD" points="1000,857.5 1005,863.8 1010,866.2 1010,857.5"/><polygon fill="#D2F5FF" points="943.8,960 960,961.2 960,990 938.8,990 938.8,967.5"/><polyline fill="none" stroke="#B4B4B4" stroke-width="2.8" stroke-linejoin="round" points="811.2,860 817.5,867.5 821.2,875 817.5,882.5 815,886.2 825,890 832.5,897.5 850,900 855,905 852.5,911.2 843.8,916.2 840,918.8"/><polyline fill="none" stroke="#B4B4B4" stroke-width="2.8" stroke-linejoin="round" points="817.5,882.5 832.5,877.5 850,878.8 862.5,872.5 875,866.2 880,863.8 887.5,870 897.5,872.5 907.5,867.5 917.5,862.5 922.5,860"/><polyline fill="none" stroke="#B4B4B4" stroke-width="2.8" stroke-linejoin="round" points="1010,872.5 997.5,875 993.8,885 992.5,895 985,907.5 980,920 970,932.5 962.5,940 955,947.5 945,955 941.2,958.8"/><polyline fill="none" stroke="#B4B4B4" stroke-width="2.8" stroke-linejoin="round" points="970,875 975,867.5 980,860"/></g>
<g clip-path="url(#t10)"><rect x="1008" y="860" width="408" height="310" fill="#FFFFC8"/><polygon fill="#FFE132" points="1005.5,911.2 1023,900 1040.5,897.5 1058,900 1080.5,901.2 1088,890 1098,880 1113,870 1121.8,866.2 1126.8,872.5 1125.5,883.8 1118,892.5 1108,903.8 1100.5,913.8 1090.5,920 1070.5,925 1053,928.8 1033,931.2 1020.5,937.5 1005.5,942.5"/><polygon fill="#FFAA00" points="1098,887.5 1104.2,878.8 1111.8,875.5 1119.2,878.8 1116.8,886.2 1108,892 1100.5,892"/><polygon fill="#D2F5FF" points="1005.5,857.5 1100.5,857.5 1093,867.5 1083,877.5 1070.5,885 1045.5,887.5 1023,890 1005.5,896.2"/><polygon fill="#A0D2FF" points="1005.5,857.5 1088,857.5 1078,870 1065.5,877.5 1045.5,880 1023,882.5 1005.5,887.5"/><polygon fill="#00BFFF" points="1005.5,857.5 1073,857.5 1068,863.8 1058,870 1040.5,872.5 1023,875 1005.5,881.2"/><polygon fill="#1E90FF" points="1005.5,857.5 1040.5,857.5 1033,862.5 1020.5,866.2 1005.5,872.5"/><polygon fill="#D2F5FF" points="1133,857.5 1138,870 1139.2,885 1133,896.2 1128,902.5 1138,903.8 1148,883.8 1158,872.5 1180.5,860 1180.5,857.5"/><polygon fill="#A0D2FF" points="1143,857.5 1145.5,870 1144.2,882.5 1141.8,888.8 1148,883.8 1158,872.5 1180.5,860 1180.5,857.5"/><polygon fill="#00BFFF" points="1155.5,857.5 1158,867.5 1160.5,871.2 1170.5,865 1180.5,860 1180.5,857.5"/><polyline fill="none" stroke="#B4B4B4" stroke-width="2.8" stroke-linejoin="round" points="1008,871.2 1015.5,877.5 1013,867.5 1023,865 1040.5,868.8 1041.8,860"/><polyline fill="none" stroke="#B4B4B4" stroke-width="2.8" stroke-linejoin="round" points="1040.5,868.8 1056.8,870 1058,877.5 1048,882.5 1053,886.2 1068,885 1078,882.5 1083,885 1088,877.5 1090.5,860"/><polyline fill="none" stroke="#B4B4B4" stroke-width="2.8" stroke-linejoin="round" points="1088,877.5 1100.5,883.8 1108,888.8 1110.5,897.5 1114.2,907.5 1118,912.5"/></g>
<g clip-path="url(#t11)"><rect x="940" y="800" width="260" height="200" fill="#FFFFC8"/><polygon fill="#4169E1" points="938.4,798.4 1214,798.4 1214,1009.5 938.4,1009.5"/><polygon fill="#0000CD" points="977.9,836.3 988.4,827.4 1007.7,820.1 1020.6,814.5 1027,804.8 1031.9,814.5 1038.3,819.3 1043.2,832.2 1036.7,841.9 1027,853.2 1017.4,862.9 1006.1,866.9 998,856.4 995.6,850 980.3,845.1"/><polygon fill="#1E90FF" points="938.4,853.2 956.1,854.8 957.7,872.5 969,879 993.2,877.4 1004.5,875.8 1014.1,869.3 1027,859.6 1036.7,850 1049.6,851.6 1062.5,854.8 1075.4,846.7 1094.7,838.7 1107.6,827.4 1117.3,817.7 1133.4,808.1 1146.3,801.6 1156,798.4 1165.7,804.8 1181.8,806.4 1206,811.3 1206,1009.5 938.4,1009.5"/><polygon fill="#00BFFF" points="938.4,893.5 956.1,895.1 980.3,891.9 1004.5,888.7 1015.8,880.6 1030.3,870.9 1039.9,864.5 1049.6,870.9 1062.5,877.4 1075.4,874.1 1091.5,866.1 1101.2,854.8 1114.1,843.5 1123.8,833.8 1139.9,824.2 1152.8,819.3 1159.2,824.2 1163.2,835.5 1162.4,848.4 1157.6,856.4 1160.8,864.5 1173.7,867.7 1206,867.7 1206,1009.5 938.4,1009.5"/><polygon fill="#A0D2FF" points="938.4,903.2 956.1,904.8 980.3,899.9 1004.5,895.1 1017.4,887 1030.3,879 1038.3,870.9 1046.4,879 1059.3,883.8 1075.4,880.6 1091.5,872.5 1104.4,861.3 1117.3,850 1130.2,841.9 1143.1,837.9 1149.5,845.1 1147.9,861.3 1143.1,869.3 1146.3,877.4 1156,880.6 1156,896.7 1101.2,945.1 938.4,1009.5"/><polygon fill="#D2F5FF" points="938.4,912.8 956.1,913.6 980.3,909.6 1007.7,901.5 1020.6,891.9 1033.5,882.2 1039.9,879 1049.6,885.4 1062.5,888.7 1077,885.4 1093.1,877.4 1107.6,864.5 1120.5,854.8 1133.4,848.4 1139.9,851.6 1141.5,864.5 1138.3,875.8 1130.2,885.4 1122.1,898.3 1127,906.4 1101.2,945.1 938.4,1009.5"/><polygon fill="#A0D2FF" points="1122.1,898.3 1130.2,890.3 1136.6,890.3 1133.4,896.7 1125.4,904.8"/><polygon fill="#FFFFC8" points="938.4,927.3 956.1,927.3 975.5,922.5 988.4,911.2 1007.7,908 1020.6,898.3 1030.3,890.3 1043.2,890.3 1056.1,893.5 1072.2,891.9 1085.1,887 1099.6,875.8 1110.9,864.5 1122.1,856.4 1131.8,854.8 1135.8,861.3 1135,874.1 1128.6,883.8 1120.5,895.1 1114.1,903.2 1115.7,912.8 1085.1,945.1 938.4,1009.5"/><polygon fill="#FFE132" points="938.4,941.8 956.1,940.2 965.8,937 978.7,928.9 988.4,922.5 1007.7,919.3 1017.4,912.8 1027,899.9 1036.7,898.3 1052.8,901.5 1068.9,904.8 1081.8,903.2 1088.3,896.7 1089.9,890.3 1098,882.2 1110.9,872.5 1122.1,865.3 1126.2,867.7 1127,875.8 1118.9,888.7 1109.2,896.7 1101.2,904.8 1091.5,912.8 1081.8,917.7 1068.9,917.7 1052.8,922.5 1036.7,927.3 1020.6,928.9 1004.5,933.8 991.6,940.2 986.7,949.9 978.7,954.7 965.8,954.7 956.1,946.7 946.4,948.3 938.4,953.1"/><polygon fill="#FFAA00" points="1098,887.8 1104.4,880.6 1112.5,875.8 1119.7,879 1117.3,885.4 1110.9,890.3 1102.8,892.7"/><polygon fill="#D2F5FF" points="1006.1,943.5 1017.4,940.2 1030.3,941.8 1030.3,945.1 1017.4,949.9 1009.3,946.7"/><polygon fill="#D2F5FF" points="940,961.2 954.5,960.4 956.1,967.6 949.7,970.9 952.1,977.3 959.3,982.1 956.1,989.4 946.4,988.6 940,977.3"/><polyline fill="none" stroke="#B4B4B4" stroke-width="2.8" stroke-linejoin="round" points="1045.6,800 1036.7,806.4 1031.9,816.1 1036.7,824.2 1039.9,832.2 1042.4,846.7 1044.8,849.2 1040.7,853.2 1039.9,864.5 1036.7,867.7 1030.3,866.9 1023.8,864.5 1017.4,867.7 1015.8,877.4 1010.9,879 1004.5,873.3 998,875 994.8,883.8 994,890.3 991.6,899.9 983.5,909.6 978.7,920.9 964.2,933.8 962.6,941.8 954.5,946.7 951.3,949.9 940,954.7"/><polyline fill="none" stroke="#B4B4B4" stroke-width="2.8" stroke-linejoin="round" points="994.8,883.8 983.5,883.8 978.7,875.8 969.8,875 972.2,869.3 980.3,858 976.3,846.7 970.6,844.3 961,845.9 951.3,851.6 944.8,849.2 940,851.6"/><polyline fill="none" stroke="#B4B4B4" stroke-width="2.8" stroke-linejoin="round" points="1039.9,864.5 1046.4,869.3 1056.1,868.5 1058.5,872.5 1052.8,879 1048,882.2 1048,886.2 1056.1,887.8 1067.3,883.8 1073.8,883 1082.6,887 1085.1,879"/><polyline fill="none" stroke="#B4B4B4" stroke-width="2.8" stroke-linejoin="round" points="1085.1,879 1088.3,867.7 1094.7,854.8 1101.2,846.7 1102.8,835.5 1110.9,829 1114.1,816.1 1120.5,808.1 1133.4,806.4 1144.7,801.6 1147.9,800"/><polyline fill="none" stroke="#B4B4B4" stroke-width="2.8" stroke-linejoin="round" points="1154.4,800 1157.6,814.5 1165.7,817.7 1173.7,814.5 1180.2,821 1191.5,820.1 1197.9,827.4"/><polyline fill="none" stroke="#B4B4B4" stroke-width="2.8" stroke-linejoin="round" points="1085.1,879 1094.7,880.6 1102.8,883.8 1108.4,888.7 1111.7,899.9 1116.5,909.6 1118.9,912.8"/><polyline fill="none" stroke="#B4B4B4" stroke-width="2.8" stroke-linejoin="round" points="1037.5,937 1043.2,935.4 1052.8,934.6 1053.6,941.8"/><polyline fill="none" stroke="#B4B4B4" stroke-width="2.8" stroke-linejoin="round" points="1036.7,940.2 1038.3,944.3 1044.8,943.5"/></g>
<g clip-path="url(#t12)"><rect x="760" y="540" width="260" height="200" fill="#FFFFC8"/><polygon fill="#FFE132" points="758.4,538.4 808.4,538.4 806.7,546.4 800.3,549.7 792.2,552.9 776.1,546.4 760,544 758.4,544"/><polygon fill="#FFE132" points="758.4,556.1 769.7,561 779.3,569 769.7,573.8 758.4,569.8"/><polygon fill="#FFE132" points="790.6,556.1 806.7,546.4 808.4,538.4 845.4,538.4 850.3,546.4 863.2,546.4 871.2,538.4 876.1,538.4 877.7,549.7 888.9,552.1 905.1,556.1 914.7,561 921.2,569 922.8,580.3 930.9,586.7 942.1,583.5 951.8,577.9 958.3,581.9 958.3,590 964.7,594.8 966.3,607.7 961.5,615.8 950.2,620.6 937.3,630.3 930.9,636.7 918,643.2 911.5,652.8 921.2,659.3 918,665.7 901.8,672.2 882.5,677 866.4,677 859.9,667.3 856.7,660.9 847,656.1 837.4,652.8 824.5,657.7 808.4,664.1 792.2,667.3 776.1,664.1 760,662.5 758.4,662.5 758.4,620.6 776.1,623.8 800.3,622.2 824.5,620.6 835.8,607.7 839,601.3 830.9,593.2 821.3,586.7 811.6,583.5 797.1,579.5 792.2,569"/><polygon fill="#FFFFC8" points="823.7,568.2 826.9,557.7 835,551.3 844.6,558.5 839,569"/><polygon fill="#FFFFC8" points="872.8,610.9 879.3,606.9 888.9,610.9 890.6,620.6 887.3,627 877.7,628.7 872.8,623.8"/><polygon fill="#FFFFC8" points="818,641.5 824.5,625.4 837.4,625.4 847,631.9 848.7,644.8 847,652.8 837.4,652.8 824.5,648"/><polygon fill="#FFAA00" points="840.6,581.9 850.3,572.2 863.2,562.6 871.2,569 866.4,578.7 856.7,586.7 845.4,589.2"/><polygon fill="#FFAA00" points="934.1,609.3 937.3,602.9 943.8,600.4 950.2,604.5 953.4,610.9 943.8,615 937.3,612.5"/><polygon fill="#FFAA00" points="766.4,639.9 769.7,631.9 784.2,632.7 801.9,636.7 805.9,644.8 803.5,652.8 793.8,658.5 776.1,652.8 768.1,646.4"/><polygon fill="#FFAA00" points="854.3,631.9 863.2,636.7 876.1,637.5 892.2,638.3 897,628.7 911.5,625.4 922.8,626.2 932.5,631.9 921.2,636.7 908.3,639.9 900.2,646.4 898.6,654.4 908.3,664.1 895.4,668.9 879.3,672.2 866.4,668.9 859.9,659.3 854.3,649.6"/><polygon fill="#FF6E00" points="866.4,651.2 874.4,653.6 869.6,656.1"/><polygon fill="#D2F5FF" points="882.5,538.4 888.9,546.4 905.1,552.9 921.2,562.6 937.3,562.6 953.4,564.2 964.7,572.2 974.4,581.9 988.9,590.8 982.4,594.8 979.2,607.7 967.9,619 958.3,623.8 945.4,635.1 937.3,643.2 926,651.2 922.8,657.7 921.2,667.3 905.1,673.8 888.9,680.2 876.1,685.1 859.9,683.5 850.3,678.6 847,673.8 827.7,670.6 800.3,668.9 769.7,668.9 758.4,667.3 758.4,749.5 1026,749.5 1026,538.4"/><polygon fill="#D2F5FF" points="758.4,593.2 769.7,594.8 792.2,599.6 790.6,607.7 781,614.1 769.7,610.9 758.4,612.5"/><polygon fill="#A0D2FF" points="913.9,546.4 921.2,541.6 937.3,538.4 969.5,538.4 974.4,544.8 969.5,549.7 953.4,552.1 937.3,554.5 924.4,551.3"/><polygon fill="#00BFFF" points="928.4,546.4 947,546.1 947,548.1 929.2,548.4"/><polygon fill="#A0D2FF" points="969.5,557.7 979.2,549.7 993.7,546.4 1026,544.8 1026,567.4 1008.2,570.6 985.7,575.5 976,569"/><polygon fill="#00BFFF" points="982.4,557.7 995.3,569 983.2,569.8"/><polygon fill="#A0D2FF" points="758.4,668.9 769.7,668.9 800.3,670.6 824.5,673.8 830.9,683.5 843.8,688.3 856.7,694.7 866.4,702.8 876.1,693.1 888.9,685.1 905.1,677 921.2,668.9 937.3,657.7 948.6,654.4 964.7,646.4 966.3,636.7 974.4,630.3 985.7,623.8 1005,620.6 1026,622.2 1026,749.5 758.4,749.5"/><polygon fill="#00BFFF" points="768.1,673.8 784.2,673.8 808.4,675.4 814.8,685.1 821.3,693.1 837.4,696.4 850.3,698 866.4,704.4 879.3,696.4 897,686.7 913.1,680.2 929.2,670.6 945.4,662.5 956.6,659.3 969.5,652.8 971.2,644.8 985.7,636.7 1005,631.9 1026,630.3 1026,749.5 758.4,749.5 758.4,685.1"/><polygon fill="#A0D2FF" points="774.5,725.4 797.9,695.5 806.7,697.2 781,728.6"/><polygon fill="#D2F5FF" points="778.1,723.8 800,698.8 802.9,698.8 780.1,725.4"/><polygon fill="#A0D2FF" points="758.4,685.1 766.4,681.8 776.1,694.7 777.7,702.8 769.7,717.3 763.2,740 758.4,740"/><polygon fill="#D2F5FF" points="758.4,733.4 769.7,730.2 772.9,740 758.4,740"/><polygon fill="#1E90FF" points="776.1,740 795.5,715.7 824.5,707.6 835.8,720.5 850.3,715.7 859.9,725.4 863.2,740"/><polygon fill="#1E90FF" points="922.8,696.4 937.3,685.1 953.4,677 969.5,668.9 984,667.3 992.1,681.8 993.7,693.1 985.7,707.6 996.9,717.3 1011.5,707.6 1011.5,694.7 1026,689.9 1026,740 929.2,740 930.9,717.3 929.2,701.2"/><polyline fill="none" stroke="#B4B4B4" stroke-width="2.8" stroke-linejoin="round" points="760,540.8 772.9,541.6 781,540"/><polyline fill="none" stroke="#B4B4B4" stroke-width="2.8" stroke-linejoin="round" points="808.4,540 808.4,544.8 800.3,549.7 790.6,556.1 789,569 797.1,578.7 808.4,581.9 818,581.9 830.9,578.7 843.8,573.8 848.7,564.2 847.8,552.9 851.9,544.8 858.3,540"/><polyline fill="none" stroke="#B4B4B4" stroke-width="2.8" stroke-linejoin="round" points="872.8,540 873.6,544.8 866.4,554.5 864.8,561 872.8,564.2 882.5,565.8 888.9,570.6 900.2,575.5 914.7,574.7 919.6,569 921.2,564.2 924.4,557.7 934.1,549.7 947,540"/><polyline fill="none" stroke="#B4B4B4" stroke-width="2.8" stroke-linejoin="round" points="888.9,570.6 882.5,578.7 882.5,588.4 872.8,588.4 866.4,591.6 865.6,598 862.4,602.9 864.8,609.3 872.8,614.1 871.2,620.6 863.2,623.8 861.5,632.7"/><polyline fill="none" stroke="#B4B4B4" stroke-width="2.8" stroke-linejoin="round" points="882.5,588.4 888.9,594.8 901.8,599.6 911.5,604.5 915.5,610.9 912.3,620.6 913.1,630.3 905.1,633.5 893.8,634.3 892.2,639.9 882.5,640.7 872.8,638.3 864.8,638.3 863.2,644.8 859.9,651.2 866.4,652.8 864.8,659.3 864,672.2 851.9,673.8 847,680.2 849.5,686.7 840.6,690.7 830.9,694.7 821.3,695.5 813.2,691.5 811.6,681.8 805.1,673.8 789,667.3 782.6,659.3 776.1,656.1 766.4,659.3 760,662.5"/><polyline fill="none" stroke="#B4B4B4" stroke-width="2.8" stroke-linejoin="round" points="818,583.5 832.5,591.6 835.8,601.3 839,609.3 837.4,617.4 843.8,622.2 853.5,625.4 861.5,632.7"/><polyline fill="none" stroke="#B4B4B4" stroke-width="2.8" stroke-linejoin="round" points="760,578.7 769.7,586.7 771.3,594.8 781,610.9 778.5,619 772.9,620.6 774.5,627 766.4,633.5 760,636.7"/><polyline fill="none" stroke="#B4B4B4" stroke-width="2.8" stroke-linejoin="round" points="840.6,690.7 851.9,691.5 863.2,694.7 876.1,693.9 879.3,699.6 892.2,704.4 908.3,704.4 921.2,710.9 937.3,715.7 947,722.1 951.8,733.4 950.2,740"/><polyline fill="none" stroke="#B4B4B4" stroke-width="2.8" stroke-linejoin="round" points="908.3,704.4 906.7,712.5 911.5,717.3 905.1,723.8 900.2,733.4 888.9,738.3"/><polyline fill="none" stroke="#B4B4B4" stroke-width="2.8" stroke-linejoin="round" points="955,648 961.5,662.5 969.5,673.8 969.5,681.8 953.4,683.5 935.7,681.8 938.9,688.3 950.2,692.3 947,696.4 937.3,698 936.5,715.7"/><polyline fill="none" stroke="#B4B4B4" stroke-width="2.8" stroke-linejoin="round" points="969.5,681.8 977.6,691.5 988.9,699.6 1005,702 1020,701.2"/><polyline fill="none" stroke="#B4B4B4" stroke-width="2.8" stroke-linejoin="round" points="956.6,562.6 958.3,572.2 961.5,577.9"/><polyline fill="none" stroke="#B4B4B4" stroke-width="2.8" stroke-linejoin="round" points="959.9,603.7 960.7,620.6"/><polyline fill="none" stroke="#B4B4B4" stroke-width="2.8" stroke-linejoin="round" points="995.3,636.7 1005,633.5 1020,631.1"/><polyline fill="none" stroke="#87CEEB" stroke-width="2.2" stroke-linejoin="round" points="871.2,540 869.6,549.7 863.2,561 850.3,572.2 840.6,578.7 824.5,581.9 813.2,586.7 811.6,591.6 819.6,596.4 819.6,602.9 808.4,609.3 801.9,613.3 789,614.1 785.8,619 776.1,619.8 760,619"/><polyline fill="none" stroke="#87CEEB" stroke-width="2.2" stroke-linejoin="round" points="974.4,540 967.9,549.7 961.5,559.3 959.9,565.8 964.7,577.1 956.6,591.6 955.8,604.5 959.9,617.4 959.9,630.3 953.4,644.8 955,648 969.5,646.4 982.4,639.9 995.3,636.7 1005,641.5 1020,643.2"/><polyline fill="none" stroke="#87CEEB" stroke-width="2.2" stroke-linejoin="round" points="908.3,738.3 921.2,734.2 953.4,732.6 969.5,736.6 976,740"/><polyline fill="none" stroke="#87CEEB" stroke-width="2.2" stroke-linejoin="round" points="760,665.7 766.4,677"/></g>
</g>
<polyline fill="none" stroke="#000" stroke-width="3.6" stroke-linejoin="round" stroke-linecap="round" points="107.5,590 103.8,586.2 110,583.8 117.5,580 114.5,576.2 113.8,570 111.2,565 111.2,558.8 107.5,555 101.2,552.5 95,554.5 88.8,553.8 85,548.8 86.2,545 82.5,540 81.2,535 86.2,532.5 88.8,528.8 90,521.2 93.8,517.5 101.2,516.2 110,511.2 111.2,508.8 113.8,509.5 120,508.8 127.5,506.2 130.8,507 132.5,512 135,513 147.5,511.2 152.5,507.5 157.5,498.8 162.5,495.5 177.5,496.5 182.5,493.8 187.5,492 192.5,487.5 205,483 217.5,478 227.5,475 231.2,473 238,471.2 240.5,466.2 238.8,458.8 241.2,453.8 247.5,452 245,448.8 252,445 251.2,437.5 246.2,427.5 243.8,420 243.8,408.8 237.5,407 233.2,404.5 235,402 245,400 260,397.5 275,393.8 285,396.2 292.5,396.2 293.8,393.8 288.8,387.5 290,380 297.5,367.5 303.8,355 307.5,349.5 317.5,351.2 330,354.5 345,354.5 351.2,356.2 357.5,354.2 366.2,352.5 369.5,347.5 367.5,340 366.2,328.8 375,320.5 382.5,320 390,318.8 397.5,310 402.5,304.2 415,303.8 420,305 422.5,313.8 430,318.8 440,322.5 450,327.5 457.5,330 468,333"/>
<polyline fill="none" stroke="#000" stroke-width="3.6" stroke-linejoin="round" stroke-linecap="round" points="468,333.8 474.2,336.2 480.5,341.2 485.5,350 493,356.2 496,363.8 494.2,371.2 495,376.2 489.2,382.5 488,390 493,396.2 510.5,400 530.5,402 548,402.5 560.5,405 575.5,412.5 588,418 599.2,419.5 599.2,423.8 604.2,428.8 611.8,442.5 618,448.8 623,455 643,453.8 668,457 695.5,459 725.5,456.5 750.5,460 760.5,468 773,470 788,475.5 800.5,478 814.2,477 818,480.5 828,481.2 843,475 858,469.5 876,465.5"/>
<polyline fill="none" stroke="#000" stroke-width="3.6" stroke-linejoin="round" stroke-linecap="round" points="876,465.5 891,463.8 906,463 926,462 941,458.8 956,455 971,441.2 983.5,436.2 992.2,431.2 989.8,426.2 982.2,420 981,415 986,405 993.5,400.5 1003.5,401.2 1013.5,406.2 1031,407.5 1046,401.2 1056,392.5 1073.5,392 1092.2,385 1096,378.8 1102.2,371.2 1109.8,369.5 1119.8,368.8 1124.8,365 1133.5,363.8 1143.5,361.2 1153.5,360.5 1161,361.2 1176,363 1181.5,359.5 1178.5,351.2 1171,345 1161,337.5 1151,332 1141,330 1131,331.2 1122.2,338 1111,333.8 1101,333.8 1088.5,337.5 1081,333.8 1078,328.8 1083.5,323.8 1091,310 1101,295 1106,287.5 1116,290.5 1131,293"/>
<polyline fill="none" stroke="#000" stroke-width="3.6" stroke-linejoin="round" stroke-linecap="round" points="1132,293 1153.8,280.5 1159.5,281.2"/>
<polyline fill="none" stroke="#87CEEB" stroke-width="2.4" stroke-linejoin="round" points="1159.5,281.2 1166.2,277.5 1165,272.5 1172.5,262.5 1180,252.5 1187.5,242.5 1200,233.8 1202.5,223.8 1186.2,220 1186.2,217.5 1200,208.8 1210,205 1225,203.8 1240,201.2 1260,200 1275,202 1290,207.5 1305,208 1320,210 1330,218.8 1335,230 1342.5,242.5 1347.5,255 1355,267.5 1362.5,277.5 1362.5,286.2 1370,292.5 1382.5,293.8 1397.5,295 1412.5,300 1425,307.5 1435,312.5 1437.5,322.5 1443.8,332.5 1447.5,337.5 1460,340 1485,337.5 1497.5,330 1508,327.5"/>
<polyline fill="none" stroke="#000" stroke-width="3.6" stroke-linejoin="round" stroke-linecap="round" points="1225,205 1260,202.5"/>
<polyline fill="none" stroke="#000" stroke-width="3.6" stroke-linejoin="round" stroke-linecap="round" points="1315,207 1325,211.2 1332.5,216.2 1331.2,221.2"/>
<polyline fill="none" stroke="#000" stroke-width="3.6" stroke-linejoin="round" stroke-linecap="round" points="1341.2,250 1346.2,260 1353.8,267.5"/>
<polyline fill="none" stroke="#000" stroke-width="3.6" stroke-linejoin="round" stroke-linecap="round" points="1403.8,293.8 1412.5,295 1425,306.2"/>
<polyline fill="none" stroke="#000" stroke-width="3.6" stroke-linejoin="round" stroke-linecap="round" points="1458.8,340.8 1485,338.8 1487,335"/>
<polyline fill="none" stroke="#87CEEB" stroke-width="2.4" stroke-linejoin="round" points="1506.5,326.2 1519,322.5 1536.5,320 1540.2,320"/>
<polyline fill="none" stroke="#000" stroke-width="3.6" stroke-linejoin="round" stroke-linecap="round" points="1512.8,319.5 1540.2,318.8"/>
<polyline fill="none" stroke="#000" stroke-width="3.6" stroke-linejoin="round" stroke-linecap="round" points="1540.2,320 1539,322.5 1534,325 1530.2,330 1534,337.5 1530.2,342 1522.8,345 1519,355 1515.2,365 1514,371.2 1509,376.2 1506.5,382.5 1502.8,387.5 1496.5,391.2 1494,400 1489,401.2 1474,397.5 1465.2,394.5 1459,400 1449,403.8 1445.2,406.2 1449,415 1451.5,425 1451,437.5 1450.2,446.2 1445.2,452 1439,453 1431.5,454.5 1434,457.5 1436.5,463.8 1429,457.5 1425.2,452.5 1420.2,450.5 1416.5,455 1415.2,462.5 1406.5,465 1399,470 1386.5,473 1376.5,473.8 1375.2,477.5 1380.2,483.8 1377.8,487.5 1369,487 1356.5,485.5 1351.5,481.2 1348.5,478 1341.5,481.2 1337.8,488.8 1331.5,495 1324,500 1319,501.2 1306.5,506.2 1296.5,511.2 1289,517.5 1285.2,526.2"/>
<polyline fill="none" stroke="#000080" stroke-width="1.6" stroke-linejoin="round" points="1285,526.2 1275.1,524.5 1263.5,526.2 1255.2,528.7 1245.3,533.6 1235.4,538.6 1227.1,543.6 1223,547.7 1211.4,550.2 1210.6,546.9 1221.3,543.6 1223,537.8 1227.9,535.3 1218.8,534.5 1213.9,532 1219.7,528.7 1221.3,523.7 1230.4,517.9 1237,508.8 1232.1,498.9 1227.1,496.7 1223.8,498.9 1215.5,498.4 1208.9,501.4 1202.3,507.2 1195.7,512.9 1185.7,517.9 1175.8,522 1167.5,529.5 1164.2,536.1 1156,539.4 1147.7,543.6 1139.4,541.1 1132.8,540.2 1131.1,545.2 1126.2,551 1129.5,557.6 1133.6,562.6 1137.8,569.2 1146,565.9 1156,565.1 1160.9,568.4 1164.2,574.2 1159.3,577.5 1156.8,583.3 1162.6,588.2 1172.5,589.1 1179.1,586.6 1183.3,581.6 1190.7,575.8 1200.6,572.8 1208.9,575 1215.5,578.3 1223,580.8 1232.1,580 1237,581.6 1246.1,582.4 1244.5,587.4 1242.8,594 1238.7,594.8 1235.4,591.5 1228.8,593.2 1221.3,596.5 1213.9,599 1205.6,601.5 1205.6,605.6 1199.8,608.1 1199,611.4 1190.7,614.7 1191.5,610.6 1187.4,611.4 1189.1,616.4 1182.4,621.3 1175.8,625.5 1170.9,632.1 1165.9,639.5 1165.9,644.5 1174.2,650.3 1183.3,651.9 1190.7,656.9 1194.8,665"/>
<polyline fill="none" stroke="#000080" stroke-width="1.6" stroke-linejoin="round" points="1196,667.5 1204.2,687.4 1205.1,695.7 1215.8,700.6 1217.5,707.3 1225.7,710.6 1229.1,715.5 1222.4,718.8 1215.8,715.5 1219.1,721.3 1227.4,725.5 1228.2,732.1 1222.4,738.7 1214.2,741.2 1205.9,747 1199.3,751.9 1201.8,754.4 1214.2,751.1 1220.8,754.4 1227.4,758.5 1230.7,765"/>
<polyline fill="none" stroke="#000080" stroke-width="1.6" stroke-linejoin="round" points="1226,772.5 1221,780 1223.5,790 1218.5,797.5 1211,802.5 1201,815"/>
<polyline fill="none" stroke="#000080" stroke-width="1.6" stroke-linejoin="round" points="1200,814.5 1194.7,821 1188.2,827.4 1181.8,832.2 1175.3,835.5 1178.6,841.9 1173.7,846.7 1175.3,854.8 1178.6,862.9 1173.7,866.1 1168.9,864.5 1165.7,869.3 1160.8,875.8 1154.4,879 1152.8,885.4 1146.3,888.7 1139.9,887.8 1139.9,892.7 1133.4,896.7 1130.2,903.2 1125.4,904.8 1120.5,911.2 1115.7,910.4 1110.9,912.8 1104.4,916.1 1101.2,922.5 1094.7,925.7 1088.3,928.1 1080.2,928.1 1077,931.4 1068.9,928.9 1062.5,932.2 1059.3,928.9 1052.8,932.2 1051.2,937 1043.2,935.4 1038.3,937 1035.1,931.4 1029.5,930.6 1030.3,937 1029.5,943.5 1023.8,946.7 1017.4,948.3 1010.9,951.5 1005.3,952.3 1003.7,948.3 1001.3,952.3 994.8,953.1 990,957.2 986.7,954.7 977.1,959.6 969,961.2 961,964.4 956.1,967.6 955.3,962"/>
<polyline fill="none" stroke="#000080" stroke-width="1.6" stroke-linejoin="round" points="955.3,962.2 955.8,968 956.7,971.9 951.9,969 950,970.9 950.9,975.8 953.8,977.2 956.7,979.7 959.1,983.5 957.7,986.9 953.8,988.8 948,989.3 944.6,987.9 946.1,985.5 943.2,984.5 942.2,979.7 939.8,976.8 938.8,971.9 940.3,966.1 944.2,963.7 945.1,960.8 940.3,959.8 937.9,958.4 935.9,955 932.6,960.3 925.8,960.8 923.8,957.4 920,956 918,952.6 914.2,954.5 913.2,950.6 910.8,950.6 908.4,956.9 903.5,957.4 899.7,958.9"/>
<polyline fill="none" stroke="#000" stroke-width="3.6" stroke-linejoin="round" stroke-linecap="round" points="900,958 892.5,956.2 885,956.2 877.5,952.5 868.8,946.2 866.2,937.5 868.8,928.8 860,926.2 850,925.5 841.2,922.5 835,917 826.2,920 821.2,926.2 812.5,931.2 807.5,928.8 803.8,935 796.2,929.5 791.2,932.5 787.5,930 781.2,936.2 775,932.5 767.5,931.2 762.5,937.5 752.5,937.5 747.5,940 747.5,948.8 751.2,957.5 753,967 750,965 740,966.2 736.2,961.2 736.2,953.8 731.2,956.2 725,960 720,958.8 713.8,960 710,955 710,948.8 703.8,946.2 693.8,946.2 688.8,943.8 693.8,937.5 693.8,931.2 696.2,924.5 687.5,921.2 682.5,916.2 681.2,906.2 677.5,901.2 682.5,897.5 672.5,897.5 662.5,898.8 653.8,903.8 651.2,902.5 656.2,897.5 652.5,892.5 651.2,883.8 655,881.2 656.2,872.5 660,867.5 665.5,863.8"/>
<polyline fill="none" stroke="#000" stroke-width="3.6" stroke-linejoin="round" stroke-linecap="round" points="665.5,863.8 673,858.8 676.8,855 680,840 679.2,827.5 676.8,816.2 670.5,815 666.8,810 663,798.8 653,793.8 646.8,798.8 646.8,806.2 640.5,811.2 633,807.5 623,802.5 610.5,800 600.5,803.8 588,811.2 575.5,815 568,818.8 561.8,826.2 553,830 538,830.5 521.8,831.2 520.5,821.2 513,817.5 509.2,812.5 505.5,805 498,807.5 488,803.8 478,802.5 468,801.2"/>
<polyline fill="none" stroke="#000" stroke-width="3.6" stroke-linejoin="round" stroke-linecap="round" points="468,801.2 457.5,805 450,812.5 451.2,820 447.5,823.8 443.8,817.5 445,807.5 440,803.8 425,807 418.8,809.5 405,810 392.5,802.5 387.5,807 380,802.5 377.5,807.5 370,797.5 356.2,797.5 356.2,790 347.5,790 335,783.8 333.8,777.5 327.5,774.5 320,777.5 310,767.5 300,762.5 287.5,755 283.8,750 272.5,748 267.5,750 262.5,758.8 258.8,753.8 250,748.8 240,745 235,742.5 226.2,735 220,732.5 216.2,735 210,731.2 205,722.5 203.8,711.2 197.5,706.2 196.2,698 203.8,693.8 205,697.5 210,701.2 215,698.8 217.5,692.5 212.5,681.2 205,672.5 203.8,661.2 212.5,655 202.5,651.2 193.8,647.5 187.5,635 182.5,627.5 172.5,627.5 160,623.8 152.5,618.8 145,618.8 139.5,613.8 140,606.2 135,600 127.5,597.5 122.5,593.8 112.5,592.5 102.5,590"/>
<clipPath id="twc"><polygon points="1219.6,869.3 1222.1,870.3 1226.4,872.7 1231.2,876.1 1229.3,879 1229.8,882.9 1228.8,886.8 1226.4,892.6 1223.5,898.4 1221.6,906.1 1219.6,912.9 1217.7,919.6 1214.8,925.4 1210,931.2 1206.6,936.1 1205.1,940.9 1204.9,946.7 1203.2,949.6 1201.3,948.6 1200.3,943.8 1197.4,939 1193.5,936.1 1190.1,933.2 1188.2,927.4 1185.3,921.6 1185.8,915.8 1187.2,910 1188.2,905.1 1191.6,900.3 1195.5,893.5 1200.3,886.8 1205.1,880.9 1208,877.1 1211.9,874.2 1216.7,872.7"/></clipPath>
<g clip-path="url(#twc)">
<polygon fill="#D2F5FF" points="1179,864.5 1237,864.5 1237,956.4 1179,956.4"/>
<polygon fill="#FFFFC8" points="1204.2,889.7 1208,886.3 1215.8,887.7 1220.6,890.6 1224,894.5 1225.4,908 1219.6,927.4 1210,933.2 1206.6,936.1 1205.1,939.9 1200.3,939.9 1197.4,939 1193.5,936.1 1191.6,931.2 1195.5,927.4 1202.2,923.5 1207.1,920.6 1202.2,917.7 1197.4,913.8 1194.5,910.4 1198.4,907.1 1202.2,902.7 1204.6,898.4 1204.2,893.5"/>
<polygon fill="#D2F5FF" points="1201.3,910.4 1209,904.2 1217.7,909.5 1209,919.6"/>
<polygon fill="#A0D2FF" points="1214.8,877.6 1219.1,875.3 1222.1,877.6 1219.1,879.5"/>
<polygon fill="#FFFFC8" points="1201.3,946.7 1205.6,946.7 1204.2,950.6 1201.3,950.6"/>
</g>
<polygon fill="none" stroke="#000080" stroke-width="1.5" stroke-linejoin="round" points="1219.6,869.3 1222.1,870.3 1226.4,872.7 1231.2,876.1 1229.3,879 1229.8,882.9 1228.8,886.8 1226.4,892.6 1223.5,898.4 1221.6,906.1 1219.6,912.9 1217.7,919.6 1214.8,925.4 1210,931.2 1206.6,936.1 1205.1,940.9 1204.9,946.7 1203.2,949.6 1201.3,948.6 1200.3,943.8 1197.4,939 1193.5,936.1 1190.1,933.2 1188.2,927.4 1185.3,921.6 1185.8,915.8 1187.2,910 1188.2,905.1 1191.6,900.3 1195.5,893.5 1200.3,886.8 1205.1,880.9 1208,877.1 1211.9,874.2 1216.7,872.7"/>
<circle cx="1219.6" cy="932.4" r="1.4" fill="#000080"/>
<circle cx="1221.1" cy="946.7" r="1.6" fill="#000080"/>
<circle cx="1221.6" cy="948.2" r="1.2" fill="#000080"/>
<circle cx="1192.6" cy="939.9" r="1" fill="#000080"/>
<circle cx="1203.2" cy="954" r="0.8" fill="#000080"/>
<circle cx="1233.2" cy="862.1" r="0.8" fill="#000080"/>
<circle cx="1233.7" cy="865.3" r="0.8" fill="#000080"/>
<circle cx="1230" cy="866.6" r="0.8" fill="#000080"/>
<circle cx="1267.5" cy="859.2" r="1.6" fill="#000080"/>
<circle cx="1174.2" cy="910" r="2.2" fill="#000080"/>
<circle cx="1173.7" cy="907.1" r="1.2" fill="#000080"/>
<circle cx="1167.9" cy="916.2" r="1.2" fill="#000080"/>
<circle cx="1170.3" cy="919.6" r="1" fill="#000080"/>
<circle cx="1172.7" cy="916.7" r="0.9" fill="#000080"/>
<circle cx="1175.6" cy="918.5" r="0.9" fill="#000080"/>
<circle cx="1172.2" cy="872.2" r="1.3" fill="#000080"/>
<circle cx="1178" cy="863.5" r="2" fill="#000080"/>
<circle cx="1174.7" cy="851.5" r="1.6" fill="#000080"/>
<clipPath id="hnc"><polygon points="914.2,1011.6 919,1008.2 927.7,1002.9 927.2,999 931.6,998 937.4,995.6 944.2,996.6 951.9,994.2 957.7,994.6 961.6,996.1 962.1,992.2 966.4,994.2 969.8,997.5 970.8,1002.9 967.4,1005.8 964.5,1009.6 961.6,1014.5 959.1,1020.3 958.7,1025.1 953.8,1027.5 948,1032.4 942.7,1033.8 939.3,1038.2 932.6,1037.7 926.8,1035.7 919,1032.8 915.3,1030.4 914,1022.2"/></clipPath>
<g clip-path="url(#hnc)">
<polygon fill="#FFFFC8" points="909.3,988.4 977,988.4 977,1046.4 909.3,1046.4"/>
<polygon fill="#FFE132" points="915.9,1016.4 920,1011.6 926.8,1013.5 931.6,1016.4 933,1025.1 930.6,1030.9 926.8,1031.9 920,1030.9 916.1,1027"/>
<polygon fill="#D2F5FF" points="931.6,1000.4 937.4,995.6 944.2,996.6 951.9,994.2 957.7,994.6 961.6,996.1 962.1,991.3 966.4,994.2 970.8,997.5 971.7,1002.9 967.4,1005.8 964.5,1009.6 961.6,1014.5 959.1,1020.3 958.7,1026.1 953.8,1028.5 948,1033.3 942.7,1034.8 940.8,1029 938.4,1017.4 934.5,1007.7"/>
<polygon fill="#A0D2FF" points="940.8,999.5 948,997.1 955.8,996.6 957.2,1007.7 955.8,1017.4 952.9,1026.1 949,1020.3 944.2,1007.7"/>
</g>
<polygon fill="none" stroke="#000080" stroke-width="1.5" stroke-linejoin="round" points="914.2,1011.6 919,1008.2 927.7,1002.9 927.2,999 931.6,998 937.4,995.6 944.2,996.6 951.9,994.2 957.7,994.6 961.6,996.1 962.1,992.2 966.4,994.2 969.8,997.5 970.8,1002.9 967.4,1005.8 964.5,1009.6 961.6,1014.5 959.1,1020.3 958.7,1025.1 953.8,1027.5 948,1032.4 942.7,1033.8 939.3,1038.2 932.6,1037.7 926.8,1035.7 919,1032.8 915.3,1030.4 914,1022.2"/>
<polyline fill="none" stroke="#B4B4B4" stroke-width="2.2" stroke-linecap="round" stroke-linejoin="round" points="943.7,992.7 951.9,991.7 959.6,988.8 963.5,986.9"/>
<circle cx="925.3" cy="970.8" r="1.3" fill="#000080"/>
<circle cx="960.6" cy="974" r="1.3" fill="#000080"/>
<circle cx="957.2" cy="980.6" r="1.2" fill="#000080"/>
<circle cx="1007.5" cy="956.9" r="1.2" fill="#000080"/>
<polyline fill="none" stroke="#000" stroke-width="3.2" stroke-linecap="round" stroke-linejoin="round" points="1251,884.5 1247.5,907"/>
<polyline fill="none" stroke="#000" stroke-width="3.2" stroke-linecap="round" stroke-linejoin="round" points="1229.5,955 1214.5,972.5"/>
<polyline fill="none" stroke="#000" stroke-width="3.2" stroke-linecap="round" stroke-linejoin="round" points="1183.8,1019.2 1172.8,1038.8"/>
<polyline fill="none" stroke="#000" stroke-width="3.2" stroke-linecap="round" stroke-linejoin="round" points="1161.5,1089.5 1161.5,1113"/>
<polyline fill="none" stroke="#000" stroke-width="3.2" stroke-linecap="round" stroke-linejoin="round" points="930.5,1085.8 936.2,1095 939.5,1103.8 940.5,1107"/>
<circle cx="1088" cy="970" r="1.5" fill="#000080"/>
<circle cx="1108" cy="979.5" r="1.6" fill="#000080"/>
<circle cx="1018" cy="1007" r="0.9" fill="#000080"/>
<circle cx="1038" cy="1015" r="0.9" fill="#000080"/>
<circle cx="1106" cy="1082" r="0.9" fill="#000080"/>
<circle cx="1130.5" cy="1110" r="1.2" fill="#000080"/>
<circle cx="1010.5" cy="1080" r="0.8" fill="#000080"/>
<circle cx="1014.2" cy="1071.2" r="0.8" fill="#000080"/>
<circle cx="1009.2" cy="1076.2" r="0.7" fill="#000080"/>
<ellipse cx="1048.5" cy="1095" rx="14" ry="8.5" fill="none" stroke="#000080" stroke-width="1.2" stroke-dasharray="1.2 2" transform="rotate(-12 1048.5 1095)"/>
<circle cx="1054.2" cy="1092.5" r="0.8" fill="#000080"/>
<circle cx="1056.8" cy="1095.5" r="0.8" fill="#000080"/>
<circle cx="1053" cy="1097.5" r="0.8" fill="#000080"/>
<circle cx="1059.2" cy="1088.8" r="0.8" fill="#000080"/>
<circle cx="1051.8" cy="1091.2" r="0.8" fill="#000080"/>
<circle cx="981.8" cy="1064.5" r="0.8" fill="#000080"/>
<circle cx="1000" cy="1067.5" r="0.8" fill="#000080"/>
<circle cx="1002.5" cy="1071.2" r="0.8" fill="#000080"/>
<circle cx="986.2" cy="1077.5" r="0.8" fill="#000080"/>
<circle cx="983.8" cy="1081.2" r="0.8" fill="#000080"/>
<circle cx="988.8" cy="1085" r="0.8" fill="#000080"/>
<circle cx="995" cy="1082" r="0.8" fill="#000080"/>
<circle cx="1006.2" cy="1080" r="0.8" fill="#000080"/>
<circle cx="1007.5" cy="1085" r="0.8" fill="#000080"/>
<circle cx="975" cy="1095" r="0.8" fill="#000080"/>
<circle cx="1000" cy="1096.2" r="0.8" fill="#000080"/>
<circle cx="1006.2" cy="1088.8" r="0.8" fill="#000080"/>
<circle cx="985" cy="1079.5" r="0.8" fill="#000080"/>
<circle cx="987.5" cy="1087" r="0.8" fill="#000080"/>
<circle cx="925" cy="970.5" r="1.2" fill="#000080"/>
<circle cx="1203.1" cy="508.8" r="1" fill="#000080"/>
<circle cx="1255.2" cy="532" r="1.2" fill="#000080"/>
<circle cx="1239.5" cy="540.2" r="1.2" fill="#000080"/>
<circle cx="1247" cy="538.6" r="1.3" fill="#000080"/>
<circle cx="1248.6" cy="544.1" r="0.9" fill="#000080"/>
<circle cx="1258.5" cy="542.7" r="1.1" fill="#000080"/>
<circle cx="1203.6" cy="560.4" r="1.2" fill="#000080"/>
<circle cx="1201" cy="569.5" r="1" fill="#000080"/>
<circle cx="1227.1" cy="546.4" r="0.9" fill="#000080"/>
<circle cx="1242.6" cy="740.7" r="1.2" fill="#000080"/>
<circle cx="1239.8" cy="747.8" r="1.2" fill="#000080"/>
<circle cx="1235.3" cy="751.6" r="1.2" fill="#000080"/>
<circle cx="1232.4" cy="756.9" r="1.6" fill="#000080"/>
<circle cx="1237.3" cy="761" r="1.2" fill="#000080"/>
<circle cx="1240.6" cy="760.2" r="1" fill="#000080"/>
<circle cx="1225.7" cy="725.5" r="1.3" fill="#000080"/>
<circle cx="1223.3" cy="723" r="1" fill="#000080"/>
<circle cx="1242.2" cy="740.8" r="0.9" fill="#000080"/>
<circle cx="1238.5" cy="748" r="1" fill="#000080"/>
<circle cx="1233.5" cy="755" r="1.3" fill="#000080"/>
<circle cx="1236" cy="762.5" r="0.9" fill="#000080"/>
<circle cx="1228.5" cy="750" r="0.9" fill="#000080"/>
<circle cx="1231" cy="776.2" r="0.8" fill="#000080"/>
<circle cx="1222.2" cy="780" r="0.8" fill="#000080"/>
<circle cx="1212.2" cy="802.5" r="1" fill="#000080"/>
<circle cx="1189.8" cy="823.8" r="0.8" fill="#000080"/>
<circle cx="1183.5" cy="837.5" r="1" fill="#000080"/>
<circle cx="1179.8" cy="842.5" r="0.8" fill="#000080"/>
<circle cx="1184.8" cy="847.5" r="0.7" fill="#000080"/>
<circle cx="1177.2" cy="865" r="1" fill="#000080"/>
<circle cx="1172.2" cy="872.5" r="0.8" fill="#000080"/>
<circle cx="1272.2" cy="855" r="0.9" fill="#000080"/>
<circle cx="1267.2" cy="858.8" r="1.1" fill="#000080"/>
<circle cx="1233.5" cy="862.5" r="0.7" fill="#000080"/>
<circle cx="1144.8" cy="888.8" r="1" fill="#000080"/>
<circle cx="1137.2" cy="893.8" r="0.9" fill="#000080"/>
<rect x="1335.5" y="837.5" width="221" height="272" fill="#fff"/>
<clipPath id="insc"><rect x="1335.5" y="837.5" width="221" height="272"/></clipPath>
<g clip-path="url(#insc)">
<clipPath id="insml"><polygon points="1335.9,835.9 1469.7,835.9 1469.7,838.1 1462.4,839.6 1455,841 1447.6,840.3 1443.2,842.5 1443.2,846.2 1438.8,850.6 1432.9,852.1 1431.5,847.6 1430,841 1428.5,846.9 1424.1,850.6 1418.2,853.5 1415.3,852.1 1409.4,853.5 1403.5,855.7 1396.2,857.2 1390.3,858.7 1388.8,861.6 1388.1,866 1384.4,866.8 1388.1,870.4 1387.4,873.4 1381.5,873.4 1379.3,869.7 1377.8,864.6 1379.3,859.4 1377.1,857.2 1371.2,857.2 1366.8,854.3 1361.6,853.5 1357.9,856.5 1352.1,856.5 1347.6,856.5 1343.2,853.5 1338.1,850.6 1334.4,848.4"/></clipPath>
<g clip-path="url(#insml)">
<polygon fill="#FFE132" points="1330,830 1477.1,830 1477.1,877.1 1330,877.1"/>
<polygon fill="#FFFFC8" points="1334.4,835.9 1400.6,835.9 1393.2,843.2 1385.9,846.2 1374.1,845.4 1356.5,848.4 1344.7,844 1334.4,841.8"/>
<polygon fill="#D2F5FF" points="1344.7,835.9 1394.7,835.9 1388.8,840.3 1374.1,841 1356.5,843.2 1349.1,841"/>
<polygon fill="#FFFFC8" points="1406.5,849.1 1418.2,846.2 1430,841.8 1443.2,840.3 1462.4,838.1 1471.2,835.9 1471.2,840.3 1455,842.5 1443.2,847.6 1438.8,852.1 1424.1,852.1 1415.3,853.5 1403.5,857.2 1391.8,859.4 1388.8,853.5 1400.6,852.1"/>
<polygon fill="#D2F5FF" points="1415.3,849.1 1424.1,846.2 1430,844.7 1431.5,849.1 1424.1,852.1 1418.2,852.8"/>
<polygon fill="#FFFFC8" points="1377.1,856.5 1390.3,857.9 1388.8,874.1 1378.5,874.1 1377.1,864.6"/>
<polygon fill="#D2F5FF" points="1382.2,861.6 1385.9,859.4 1385.1,866.8 1388.8,870.4 1388.1,874.1 1380.7,874.1 1380.7,868.2"/>
<polyline fill="none" stroke="#B4B4B4" stroke-width="2" stroke-linecap="round" stroke-linejoin="round" points="1400.6,838.1 1393.2,842.5 1391.8,846.2 1385.9,850.6 1380.7,853.5 1379.3,857.2"/>
</g>
<polyline fill="none" stroke="#000080" stroke-width="1.3" stroke-linecap="round" stroke-linejoin="round" points="1469.7,838.1 1462.4,839.6 1455,841 1447.6,840.3 1443.2,842.5 1443.2,846.2 1438.8,850.6 1432.9,852.1 1431.5,847.6 1430,841 1428.5,846.9 1424.1,850.6 1418.2,853.5 1415.3,852.1 1409.4,853.5 1403.5,855.7 1396.2,857.2 1390.3,858.7 1388.8,861.6 1388.1,866 1384.4,866.8 1388.1,870.4 1387.4,873.4 1381.5,873.4 1379.3,869.7 1377.8,864.6 1379.3,859.4 1377.1,857.2 1371.2,857.2 1366.8,854.3 1361.6,853.5 1357.9,856.5"/>
<polyline fill="none" stroke="#000" stroke-width="3.4" stroke-linecap="round" stroke-linejoin="round" points="1357.9,856.8 1352.1,856.5 1347.6,856.5 1343.2,853.5 1338.1,850.6"/>
<polyline fill="none" stroke="#B4B4B4" stroke-width="2.2" stroke-linecap="round" stroke-linejoin="round" points="1380.7,875.6 1389.6,873.8"/>
<clipPath id="hn2"><polygon points="1363.8,886.6 1371.9,881.5 1372.6,879.3 1380,877.8 1385.9,877.1 1391.8,875.9 1395.4,878.5 1395.9,881.5 1393.2,883.7 1390.3,888.8 1388.8,893.2 1384.4,895.4 1378.5,901.3 1374.1,901.8 1365.3,898.4 1363.5,893.2"/></clipPath>
<g clip-path="url(#hn2)">
<polygon fill="#FFFFC8" points="1359.4,874.1 1397.6,874.1 1397.6,903.5 1359.4,903.5"/>
<polygon fill="#FFE132" points="1365,888.8 1368.5,886.6 1373.4,888.8 1374.1,894.7 1371.9,898.4 1366.8,896.9 1364.7,893.2"/>
<polygon fill="#D2F5FF" points="1374.1,880.7 1380,877.1 1391.8,874.9 1396.2,878.5 1396.5,881.5 1393.2,883.7 1390.3,888.8 1388.8,893.2 1384.4,896.2 1378.5,901.3 1377.1,894.7 1374.9,887.4"/>
<polygon fill="#A0D2FF" points="1378.5,879.3 1387.4,877.1 1388.8,882.9 1386.6,893.2 1383.7,894.7 1381.5,888.8"/>
</g>
<polygon fill="none" stroke="#000080" stroke-width="1.5" stroke-linejoin="round" points="1363.8,886.6 1371.9,881.5 1372.6,879.3 1380,877.8 1385.9,877.1 1391.8,875.9 1395.4,878.5 1395.9,881.5 1393.2,883.7 1390.3,888.8 1388.8,893.2 1384.4,895.4 1378.5,901.3 1374.1,901.8 1365.3,898.4 1363.5,893.2"/>
<clipPath id="tw2"><polygon points="1517.5,836.6 1519.7,841.8 1522.6,846.2 1525.6,849.1 1526.8,852.8 1527.8,849.1 1530,844.7 1533.7,836.6"/></clipPath>
<g clip-path="url(#tw2)">
<polygon fill="#FFFFC8" points="1516.8,835.9 1534.4,835.9 1534.4,853.5 1516.8,853.5"/>
<polygon fill="#D2F5FF" points="1516.8,835.9 1521.2,835.9 1524.1,844.7 1526.8,852.1 1522.6,846.9 1519,841.8"/>
</g>
<polygon fill="none" stroke="#000080" stroke-width="1.5" stroke-linejoin="round" points="1517.5,836.6 1519.7,841.8 1522.6,846.2 1525.6,849.1 1526.8,852.8 1527.8,849.1 1530,844.7 1533.7,836.6"/>
<polyline fill="none" stroke="#000" stroke-width="3.4" stroke-linecap="round" stroke-linejoin="round" points="1541.8,853.5 1528.5,871.5"/>
<polyline fill="none" stroke="#000" stroke-width="3.4" stroke-linecap="round" stroke-linejoin="round" points="1516.5,889.6 1506.5,909.4"/>
<polyline fill="none" stroke="#000" stroke-width="3.4" stroke-linecap="round" stroke-linejoin="round" points="1503.5,930 1503.7,951.3"/>
<polyline fill="none" stroke="#000" stroke-width="3.4" stroke-linecap="round" stroke-linejoin="round" points="1368.5,923.4 1374.1,931.5 1377.8,936.6 1379.3,941.8"/>
<circle cx="1370" cy="863.8" r="0.9" fill="#000080"/>
<circle cx="1462.4" cy="863.8" r="1.4" fill="#000080"/>
<circle cx="1473.4" cy="869" r="1.7" fill="#000080"/>
<circle cx="1421.9" cy="884.1" r="0.6" fill="#000080"/>
<circle cx="1433.8" cy="888.4" r="0.6" fill="#000080"/>
<circle cx="1402.1" cy="916" r="1" fill="#000080"/>
<circle cx="1412.4" cy="919.7" r="1.1" fill="#000080"/>
<circle cx="1420.9" cy="920" r="0.7" fill="#000080"/>
<circle cx="1403.5" cy="924.9" r="1.1" fill="#000080"/>
<circle cx="1405" cy="928.5" r="0.9" fill="#000080"/>
<circle cx="1409.4" cy="927.1" r="0.6" fill="#000080"/>
<circle cx="1416" cy="926.3" r="0.8" fill="#000080"/>
<circle cx="1418.2" cy="927.1" r="0.8" fill="#000080"/>
<circle cx="1416" cy="931.5" r="0.8" fill="#000080"/>
<circle cx="1411.9" cy="935.1" r="0.8" fill="#000080"/>
<circle cx="1398.4" cy="934.4" r="0.5" fill="#000080"/>
<circle cx="1471.9" cy="927.1" r="0.8" fill="#000080"/>
<circle cx="1486.2" cy="942.5" r="0.9" fill="#000080"/>
<circle cx="1454.3" cy="958.7" r="0.6" fill="#000080"/>
<circle cx="1535.9" cy="841.8" r="0.8" fill="#000080"/>
<circle cx="1536.6" cy="849.9" r="1" fill="#000080"/>
<circle cx="1521.2" cy="846.2" r="0.6" fill="#000080"/>
<ellipse cx="1440.29" cy="933.676" rx="8.5" ry="4" fill="none" stroke="#000080" stroke-width="1.1" stroke-dasharray="2 1" transform="rotate(-22 1440.29 933.676)"/>
<ellipse cx="1442.29" cy="933.676" rx="3" ry="1.5" fill="none" stroke="#000080" stroke-width="0.8" transform="rotate(-22 1440.29 933.676)"/>
<polyline fill="none" stroke="#000" stroke-width="3.4" stroke-linecap="round" stroke-linejoin="round" points="1502.9,985.3 1495.7,1003.3"/>
<polyline fill="none" stroke="#000" stroke-width="3.4" stroke-linecap="round" stroke-linejoin="round" points="1467.3,1038.2 1453.1,1053.6"/>
<polyline fill="none" stroke="#000" stroke-width="3.4" stroke-linecap="round" stroke-linejoin="round" points="1422.2,1094.9 1413.2,1098.2 1404.7,1099.5"/>
<polyline fill="none" stroke="#000" stroke-width="3.4" stroke-linecap="round" stroke-linejoin="round" points="1358.5,1044.1 1357.7,1054.9 1359.5,1065.2"/>
<polyline fill="none" stroke="#000" stroke-width="3.4" stroke-linecap="round" stroke-linejoin="round" points="1385.3,977.6 1386.4,985.3 1382.2,995.1"/>
<circle cx="1441.4" cy="995.6" r="1.03" fill="#000080"/>
<circle cx="1444.9" cy="995.7" r="0.88" fill="#000080"/>
<circle cx="1444.9" cy="995.4" r="0.72" fill="#000080"/>
<circle cx="1441.1" cy="994.7" r="0.75" fill="#000080"/>
<circle cx="1437.7" cy="996.5" r="0.76" fill="#000080"/>
<circle cx="1442.6" cy="997.9" r="1.17" fill="#000080"/>
<circle cx="1439.7" cy="993.1" r="1.19" fill="#000080"/>
<circle cx="1446.9" cy="995.8" r="0.84" fill="#000080"/>
<circle cx="1442.8" cy="995.3" r="0.85" fill="#000080"/>
<circle cx="1442.7" cy="992.8" r="0.99" fill="#000080"/>
<circle cx="1440.4" cy="992.4" r="0.97" fill="#000080"/>
<circle cx="1442.9" cy="994.7" r="0.8" fill="#000080"/>
<circle cx="1439.9" cy="1006.8" r="0.89" fill="#000080"/>
<circle cx="1438.6" cy="1008.1" r="0.88" fill="#000080"/>
<circle cx="1442.1" cy="1005.2" r="0.85" fill="#000080"/>
<circle cx="1438.2" cy="1008.1" r="1.23" fill="#000080"/>
<circle cx="1440.7" cy="1007.3" r="1.29" fill="#000080"/>
<circle cx="1443" cy="1012" r="1.15" fill="#000080"/>
<circle cx="1442.7" cy="1012.7" r="0.72" fill="#000080"/>
<circle cx="1438.9" cy="1005.2" r="1.04" fill="#000080"/>
<circle cx="1442.6" cy="1007.9" r="1.12" fill="#000080"/>
<circle cx="1438.2" cy="1007.5" r="0.97" fill="#000080"/>
<circle cx="1444.3" cy="1003.5" r="0.98" fill="#000080"/>
<circle cx="1440.5" cy="1008.9" r="1.12" fill="#000080"/>
<circle cx="1436.1" cy="1002" r="1.19" fill="#000080"/>
<circle cx="1440.5" cy="1012.8" r="1.1" fill="#000080"/>
<circle cx="1443.8" cy="1010.3" r="0.8" fill="#000080"/>
<circle cx="1441.7" cy="1010.5" r="1.16" fill="#000080"/>
<circle cx="1476.2" cy="1003.5" r="0.8" fill="#000080"/>
<circle cx="1474.5" cy="1001.3" r="0.82" fill="#000080"/>
<circle cx="1458.2" cy="1000.4" r="1.01" fill="#000080"/>
<circle cx="1476.3" cy="1000.5" r="0.81" fill="#000080"/>
<circle cx="1463" cy="1006.2" r="1.08" fill="#000080"/>
<circle cx="1475.1" cy="1003.4" r="0.72" fill="#000080"/>
<circle cx="1473.3" cy="1005" r="0.89" fill="#000080"/>
<circle cx="1472.4" cy="1002.3" r="0.81" fill="#000080"/>
<circle cx="1466.1" cy="1004.5" r="1.08" fill="#000080"/>
<circle cx="1469.3" cy="999.2" r="0.91" fill="#000080"/>
<circle cx="1471.4" cy="1001.3" r="1.05" fill="#000080"/>
<circle cx="1475.2" cy="996.9" r="1" fill="#000080"/>
<circle cx="1466.8" cy="1003.7" r="0.65" fill="#000080"/>
<circle cx="1470.7" cy="1001.4" r="0.63" fill="#000080"/>
<circle cx="1473.6" cy="1003.5" r="0.77" fill="#000080"/>
<circle cx="1472.6" cy="1002.1" r="0.68" fill="#000080"/>
<circle cx="1478" cy="1003.5" r="0.61" fill="#000080"/>
<circle cx="1479.5" cy="999.5" r="0.67" fill="#000080"/>
<circle cx="1472.4" cy="1004.4" r="0.78" fill="#000080"/>
<circle cx="1482.5" cy="1005.6" r="1.1" fill="#000080"/>
<circle cx="1464.3" cy="1002.7" r="0.64" fill="#000080"/>
<circle cx="1477.8" cy="1003.5" r="0.73" fill="#000080"/>
<circle cx="1459.9" cy="1010.3" r="0.61" fill="#000080"/>
<circle cx="1469" cy="1011.3" r="0.67" fill="#000080"/>
<circle cx="1454.7" cy="1013.3" r="0.86" fill="#000080"/>
<circle cx="1477.4" cy="1011.9" r="0.95" fill="#000080"/>
<circle cx="1456.3" cy="1019.8" r="0.68" fill="#000080"/>
<circle cx="1458.7" cy="1005.8" r="0.99" fill="#000080"/>
<circle cx="1453.5" cy="1017.7" r="1.01" fill="#000080"/>
<circle cx="1477.1" cy="1012.5" r="1" fill="#000080"/>
<circle cx="1464" cy="1004" r="0.71" fill="#000080"/>
<circle cx="1447.4" cy="1013" r="0.61" fill="#000080"/>
<circle cx="1465.2" cy="1014.6" r="0.73" fill="#000080"/>
<circle cx="1447.9" cy="998.6" r="0.82" fill="#000080"/>
<circle cx="1485.3" cy="1006.3" r="1.08" fill="#000080"/>
<circle cx="1452.2" cy="1017.1" r="0.71" fill="#000080"/>
<circle cx="1459.3" cy="1017.8" r="0.91" fill="#000080"/>
<circle cx="1473" cy="1006.4" r="0.84" fill="#000080"/>
<circle cx="1446.4" cy="1004.2" r="0.64" fill="#000080"/>
<circle cx="1444.9" cy="1001.7" r="0.99" fill="#000080"/>
<circle cx="1457" cy="1006.3" r="0.69" fill="#000080"/>
<circle cx="1459.2" cy="1008" r="1" fill="#000080"/>
<circle cx="1446.6" cy="1030.1" r="0.8" fill="#000080"/>
<circle cx="1452" cy="1027" r="0.69" fill="#000080"/>
<circle cx="1440.5" cy="1035.4" r="1.05" fill="#000080"/>
<circle cx="1438.4" cy="1027" r="1.01" fill="#000080"/>
<circle cx="1451.3" cy="1030.1" r="0.78" fill="#000080"/>
<circle cx="1431.2" cy="1030.3" r="0.61" fill="#000080"/>
<circle cx="1451.1" cy="1029.3" r="0.86" fill="#000080"/>
<circle cx="1446.4" cy="1027.8" r="1.04" fill="#000080"/>
<circle cx="1439.6" cy="1026.2" r="0.73" fill="#000080"/>
<circle cx="1434.3" cy="1038.2" r="0.89" fill="#000080"/>
<circle cx="1435.7" cy="1041.1" r="0.67" fill="#000080"/>
<circle cx="1444.5" cy="1027.2" r="0.83" fill="#000080"/>
<circle cx="1417" cy="1021.9" r="0.81" fill="#000080"/>
<circle cx="1446.9" cy="1026.4" r="0.87" fill="#000080"/>
<circle cx="1434.4" cy="1031.4" r="0.82" fill="#000080"/>
<circle cx="1436.7" cy="1032.4" r="1" fill="#000080"/>
<circle cx="1441.8" cy="1040.7" r="0.96" fill="#000080"/>
<circle cx="1427.8" cy="1028.9" r="0.86" fill="#000080"/>
<circle cx="1419.4" cy="1026.3" r="0.65" fill="#000080"/>
<circle cx="1429.1" cy="1029.2" r="0.74" fill="#000080"/>
<circle cx="1438.1" cy="1021.1" r="0.88" fill="#000080"/>
<circle cx="1437.8" cy="1011.8" r="0.82" fill="#000080"/>
<circle cx="1427.1" cy="1024.8" r="0.86" fill="#000080"/>
<circle cx="1432.4" cy="1022.4" r="0.87" fill="#000080"/>
<circle cx="1428.9" cy="1043.3" r="0.95" fill="#000080"/>
<circle cx="1455.1" cy="1035.6" r="0.73" fill="#000080"/>
<circle cx="1429.7" cy="1038.6" r="1.02" fill="#000080"/>
<circle cx="1446.2" cy="1043.5" r="0.82" fill="#000080"/>
<circle cx="1448.4" cy="1043.3" r="0.64" fill="#000080"/>
<circle cx="1438.6" cy="1036.1" r="1.05" fill="#000080"/>
<circle cx="1449.9" cy="1047.1" r="0.93" fill="#000080"/>
<circle cx="1452.4" cy="1048.3" r="1.08" fill="#000080"/>
<circle cx="1414.2" cy="1044.7" r="0.8" fill="#000080"/>
<circle cx="1387.2" cy="1030.7" r="1.02" fill="#000080"/>
<circle cx="1414.9" cy="1034.9" r="0.86" fill="#000080"/>
<circle cx="1407.9" cy="1032.7" r="0.76" fill="#000080"/>
<circle cx="1410.3" cy="1027.9" r="0.88" fill="#000080"/>
<circle cx="1409.2" cy="1029.6" r="0.77" fill="#000080"/>
<circle cx="1404" cy="1023.7" r="0.63" fill="#000080"/>
<circle cx="1424.2" cy="1028.1" r="1.09" fill="#000080"/>
<circle cx="1415.4" cy="1032.2" r="0.62" fill="#000080"/>
<circle cx="1416.4" cy="1067.2" r="0.66" fill="#000080"/>
<circle cx="1414.3" cy="1077.5" r="1.01" fill="#000080"/>
<circle cx="1416.2" cy="1074.9" r="1.06" fill="#000080"/>
<circle cx="1414.8" cy="1067.9" r="0.64" fill="#000080"/>
<circle cx="1417.7" cy="1074.7" r="0.81" fill="#000080"/>
<circle cx="1418.4" cy="1077.5" r="0.92" fill="#000080"/>
<circle cx="1416.4" cy="1069.4" r="1.03" fill="#000080"/>
<circle cx="1418.1" cy="1076.3" r="0.83" fill="#000080"/>
<circle cx="1415.6" cy="1077.8" r="1.06" fill="#000080"/>
<circle cx="1416.2" cy="1074.6" r="0.86" fill="#000080"/>
<circle cx="1416.3" cy="1074.4" r="0.68" fill="#000080"/>
<circle cx="1416.9" cy="1072.9" r="0.76" fill="#000080"/>
<circle cx="1380.9" cy="1039.4" r="0.7" fill="#000080"/>
<circle cx="1387.9" cy="1038.2" r="0.7" fill="#000080"/>
<circle cx="1375.8" cy="1044.6" r="0.7" fill="#000080"/>
<circle cx="1369.3" cy="1011.9" r="0.7" fill="#000080"/>
<circle cx="1426.1" cy="1060.6" r="0.7" fill="#000080"/>
<circle cx="1410.6" cy="1088.4" r="0.7" fill="#000080"/>
<circle cx="1402.9" cy="1020.9" r="0.7" fill="#000080"/>
<circle cx="1422.2" cy="1016.2" r="0.7" fill="#000080"/>
<circle cx="1430.7" cy="1052.3" r="0.7" fill="#000080"/>
</g>
<rect x="1335.5" y="837.5" width="221" height="272" fill="none" stroke="#111" stroke-width="1.2"/>
<g font-family="Liberation Sans, sans-serif" font-weight="bold" font-size="11.6" fill="#000"><text x="1450.3" y="1078">South China</text><text x="1450.3" y="1091">Sea Islands</text><text x="1450.3" y="1104">Scale 1:28 000 000</text></g>
<g stroke="#222" stroke-width="1" fill="none">
<rect x="68.5" y="141.5" width="1495" height="973"/>
<path d="M116.5 141.5v-5 M116.5 1114.5v5"/>
<path d="M234.5 141.5v-11 M234.5 1114.5v11"/>
<path d="M353.5 141.5v-5 M353.5 1114.5v5"/>
<path d="M472.5 141.5v-11 M472.5 1114.5v11"/>
<path d="M591.5 141.5v-5 M591.5 1114.5v5"/>
<path d="M709.5 141.5v-11 M709.5 1114.5v11"/>
<path d="M828.5 141.5v-5 M828.5 1114.5v5"/>
<path d="M947.5 141.5v-11 M947.5 1114.5v11"/>
<path d="M1065.5 141.5v-5 M1065.5 1114.5v5"/>
<path d="M1184.5 141.5v-11 M1184.5 1114.5v11"/>
<path d="M1303.5 141.5v-5 M1303.5 1114.5v5"/>
<path d="M1422.5 141.5v-11 M1422.5 1114.5v11"/>
<path d="M1540.5 141.5v-5 M1540.5 1114.5v5"/>
<path d="M68.5 1114.5h-5 M1563.5 1114.5h5"/>
<path d="M68.5 995.5h-11 M1563.5 995.5h11"/>
<path d="M68.5 876.5h-5 M1563.5 876.5h5"/>
<path d="M68.5 758.5h-11 M1563.5 758.5h11"/>
<path d="M68.5 639.5h-5 M1563.5 639.5h5"/>
<path d="M68.5 520.5h-11 M1563.5 520.5h11"/>
<path d="M68.5 402.5h-5 M1563.5 402.5h5"/>
<path d="M68.5 283.5h-11 M1563.5 283.5h11"/>
<path d="M68.5 164.5h-5 M1563.5 164.5h5"/>
</g>
<g font-family="Liberation Sans, sans-serif" font-size="24.3" fill="#000" style="font-kerning:none">
<text x="234.5" y="113.7" text-anchor="middle">80E</text>
<text x="234.5" y="1159.8" text-anchor="middle">80E</text>
<text x="471.9" y="113.7" text-anchor="middle">90E</text>
<text x="471.9" y="1159.8" text-anchor="middle">90E</text>
<text x="709.3" y="113.7" text-anchor="middle">100E</text>
<text x="709.3" y="1159.8" text-anchor="middle">100E</text>
<text x="946.7" y="113.7" text-anchor="middle">110E</text>
<text x="946.7" y="1159.8" text-anchor="middle">110E</text>
<text x="1184.1" y="113.7" text-anchor="middle">120E</text>
<text x="1184.1" y="1159.8" text-anchor="middle">120E</text>
<text x="1421.5" y="113.7" text-anchor="middle">130E</text>
<text x="1421.5" y="1159.8" text-anchor="middle">130E</text>
<text x="42.5" y="1004.4" text-anchor="end">20N</text>
<text x="1589.5" y="1004.4">20N</text>
<text x="42.5" y="767" text-anchor="end">30N</text>
<text x="1589.5" y="767">30N</text>
<text x="42.5" y="529.6" text-anchor="end">40N</text>
<text x="1589.5" y="529.6">40N</text>
<text x="42.5" y="292.2" text-anchor="end">50N</text>
<text x="1589.5" y="292.2">50N</text>
</g>
<polygon points="286,1203 344,1190.5 344,1215.5" fill="#8A2BE2"/>
<polygon points="1218.5,1203 1160.5,1190.5 1160.5,1215.5" fill="#FF69B4" stroke="#333" stroke-width="0.5"/>
<rect x="344" y="1190.5" width="58.3214" height="25" fill="#00008B" stroke="#222" stroke-width="0.8"/>
<rect x="402.321" y="1190.5" width="58.3214" height="25" fill="#0000CD" stroke="#222" stroke-width="0.8"/>
<rect x="460.643" y="1190.5" width="58.3214" height="25" fill="#4169E1" stroke="#222" stroke-width="0.8"/>
<rect x="518.964" y="1190.5" width="58.3214" height="25" fill="#1E90FF" stroke="#222" stroke-width="0.8"/>
<rect x="577.286" y="1190.5" width="58.3214" height="25" fill="#00BFFF" stroke="#222" stroke-width="0.8"/>
<rect x="635.607" y="1190.5" width="58.3214" height="25" fill="#A0D2FF" stroke="#222" stroke-width="0.8"/>
<rect x="693.929" y="1190.5" width="58.3214" height="25" fill="#D2F5FF" stroke="#222" stroke-width="0.8"/>
<rect x="752.25" y="1190.5" width="58.3214" height="25" fill="#FFFFC8" stroke="#222" stroke-width="0.8"/>
<rect x="810.571" y="1190.5" width="58.3214" height="25" fill="#FFE132" stroke="#222" stroke-width="0.8"/>
<rect x="868.893" y="1190.5" width="58.3214" height="25" fill="#FFAA00" stroke="#222" stroke-width="0.8"/>
<rect x="927.214" y="1190.5" width="58.3214" height="25" fill="#FF6E00" stroke="#222" stroke-width="0.8"/>
<rect x="985.536" y="1190.5" width="58.3214" height="25" fill="#FF0000" stroke="#222" stroke-width="0.8"/>
<rect x="1043.86" y="1190.5" width="58.3214" height="25" fill="#C80000" stroke="#222" stroke-width="0.8"/>
<rect x="1102.18" y="1190.5" width="58.3214" height="25" fill="#A02323" stroke="#222" stroke-width="0.8"/>
<g font-family="Liberation Sans, sans-serif" font-size="23.5" fill="#000" text-anchor="middle" style="font-kerning:none">
<text x="344" y="1240">-20</text>
<text x="402.321" y="1240">-16</text>
<text x="460.643" y="1240">-12</text>
<text x="518.964" y="1240">-8</text>
<text x="577.286" y="1240">-4</text>
<text x="635.607" y="1240">-2</text>
<text x="693.929" y="1240">-1</text>
<text x="752.25" y="1240">0</text>
<text x="810.571" y="1240">1</text>
<text x="868.893" y="1240">2</text>
<text x="927.214" y="1240">4</text>
<text x="985.536" y="1240">8</text>
<text x="1043.86" y="1240">12</text>
<text x="1102.18" y="1240">16</text>
<text x="1160.5" y="1240">20</text>
</g>
<text x="1232" y="1224" font-family="Liberation Sans, sans-serif" font-size="28.5" fill="#000">degC</text>
<g font-family="Liberation Sans, sans-serif" fill="#000080" style="font-kerning:none">
<text x="21" y="26.3" font-size="35.3">Forecast start : 2026/02/15</text>
<text x="21.5" y="62" font-size="35.3">CMA-CPSv3 Forecast</text>
<text x="830" y="26.3" font-size="35.3" text-anchor="middle">Daily 2-m Air Temperature Change</text>
<text x="829" y="62" font-size="35.3" text-anchor="middle">with 2026/02/15</text>
<text x="1609.3" y="26.3" font-size="35.3" text-anchor="end">Date: 2026/02/16</text>
<text x="1608" y="54" font-size="23.4" text-anchor="end">Ensemble Size = 4</text>
</g>
<text x="82" y="1102.5" font-family="Liberation Sans, sans-serif" font-weight="bold" font-size="18.5" fill="#000">Scale 1:14 000 000</text>
</svg>
</body></html>
